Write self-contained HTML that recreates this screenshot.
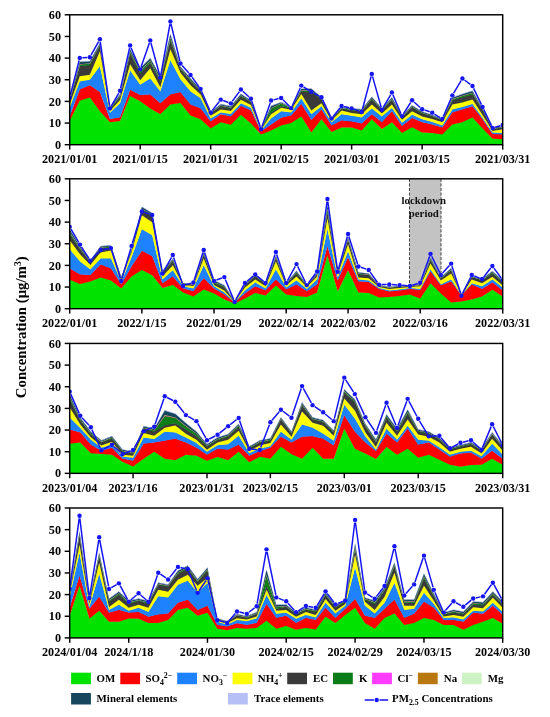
<!DOCTYPE html>
<html lang="en"><head><meta charset="utf-8"><title>PM2.5 chemical composition</title>
<style>html,body{margin:0;padding:0;background:#fff}svg{display:block}</style></head>
<body>
<svg width="550" height="717" viewBox="0 0 550 717" font-family="'Liberation Serif','DejaVu Serif',serif" font-weight="bold">
<rect width="550" height="717" fill="#fff"/>
<g>
<clipPath id="cp0"><rect x="69.7" y="14.8" width="433" height="129.9"/></clipPath>
<polygon points="69.7,120.24 79.77,100.32 89.84,97.07 99.91,110.93 109.98,121.75 120.05,120.67 130.12,95.55 140.19,100.97 150.26,108.11 160.33,113.96 170.4,104 180.47,102.7 190.54,115.04 200.61,118.94 210.68,128.03 220.75,121.75 230.82,124.35 240.89,114.39 250.96,123.05 261.03,134.09 271.1,129.98 281.17,125 291.23,122.62 301.3,116.12 311.37,132.14 321.44,118.94 331.51,131.71 341.58,127.16 351.65,127.16 361.72,129.98 371.79,118.94 381.86,128.68 391.93,121.97 402,132.58 412.07,126.73 422.14,132.14 432.21,132.58 442.28,134.09 452.35,124.13 462.42,121.97 472.49,116.99 482.56,128.03 492.63,138.42 502.7,138.85 502.7,144.7 492.63,144.7 482.56,144.7 472.49,144.7 462.42,144.7 452.35,144.7 442.28,144.7 432.21,144.7 422.14,144.7 412.07,144.7 402,144.7 391.93,144.7 381.86,144.7 371.79,144.7 361.72,144.7 351.65,144.7 341.58,144.7 331.51,144.7 321.44,144.7 311.37,144.7 301.3,144.7 291.23,144.7 281.17,144.7 271.1,144.7 261.03,144.7 250.96,144.7 240.89,144.7 230.82,144.7 220.75,144.7 210.68,144.7 200.61,144.7 190.54,144.7 180.47,144.7 170.4,144.7 160.33,144.7 150.26,144.7 140.19,144.7 130.12,144.7 120.05,144.7 109.98,144.7 99.91,144.7 89.84,144.7 79.77,144.7 69.7,144.7" fill="#00E200"/>
<polygon points="69.7,116.12 79.77,89.06 89.84,84.95 99.91,91.66 109.98,118.72 120.05,116.99 130.12,89.49 140.19,94.69 150.26,94.04 160.33,102.92 170.4,94.04 180.47,91.87 190.54,104 200.61,108.11 210.68,121.1 220.75,113.96 230.82,116.12 240.89,105.51 250.96,110.06 261.03,131.06 271.1,124.13 281.17,117.42 291.23,115.04 301.3,103.57 311.37,119.59 321.44,108.98 331.51,125 341.58,120.02 351.65,121.1 361.72,123.05 371.79,113.96 381.86,121.75 391.93,110.93 402,125.65 412.07,117.64 422.14,121.97 432.21,124.13 442.28,127.16 452.35,112.01 462.42,108.98 472.49,105.95 482.56,118.94 492.63,133.66 502.7,134.09 502.7,139.25 492.63,138.82 482.56,128.43 472.49,117.39 462.42,122.37 452.35,124.53 442.28,134.49 432.21,132.98 422.14,132.54 412.07,127.13 402,132.98 391.93,122.37 381.86,129.08 371.79,119.34 361.72,130.38 351.65,127.56 341.58,127.56 331.51,132.11 321.44,119.34 311.37,132.54 301.3,116.52 291.23,123.02 281.17,125.4 271.1,130.38 261.03,134.49 250.96,123.45 240.89,114.79 230.82,124.75 220.75,122.15 210.68,128.43 200.61,119.34 190.54,115.44 180.47,103.1 170.4,104.4 160.33,114.36 150.26,108.51 140.19,101.37 130.12,95.95 120.05,121.07 109.98,122.15 99.91,111.33 89.84,97.47 79.77,100.72 69.7,120.64" fill="#FF0000"/>
<polygon points="69.7,107.03 79.77,81.05 89.84,79.32 99.91,65.89 109.98,112.44 120.05,102.92 130.12,70.01 140.19,84.3 150.26,78.02 160.33,91.01 170.4,59.83 180.47,78.88 190.54,91.01 200.61,97.94 210.68,118.07 220.75,112.01 230.82,113.52 240.89,102.92 250.96,107.46 261.03,129.98 271.1,118.07 281.17,110.93 291.23,112.01 301.3,97.94 311.37,113.96 321.44,105.95 331.51,121.97 341.58,113.96 351.65,115.47 361.72,116.99 371.79,108.11 381.86,116.12 391.93,107.68 402,122.4 412.07,114.39 422.14,118.94 432.21,121.53 442.28,125 452.35,108.98 462.42,106.6 472.49,103.57 482.56,117.42 492.63,132.14 502.7,132.58 502.7,134.49 492.63,134.06 482.56,119.34 472.49,106.35 462.42,109.38 452.35,112.41 442.28,127.56 432.21,124.53 422.14,122.37 412.07,118.04 402,126.05 391.93,111.33 381.86,122.15 371.79,114.36 361.72,123.45 351.65,121.5 341.58,120.42 331.51,125.4 321.44,109.38 311.37,119.99 301.3,103.97 291.23,115.44 281.17,117.82 271.1,124.53 261.03,131.46 250.96,110.46 240.89,105.91 230.82,116.52 220.75,114.36 210.68,121.5 200.61,108.51 190.54,104.4 180.47,92.27 170.4,94.44 160.33,103.32 150.26,94.44 140.19,95.09 130.12,89.89 120.05,117.39 109.98,119.12 99.91,92.06 89.84,85.35 79.77,89.46 69.7,116.52" fill="#1E82FF"/>
<polygon points="69.7,104.21 79.77,75.85 89.84,74.34 99.91,50.96 109.98,110.71 120.05,99.67 130.12,63.95 140.19,79.97 150.26,67.84 160.33,86.89 170.4,48.79 180.47,72.39 190.54,84.95 200.61,94.04 210.68,115.47 220.75,108.98 230.82,110.71 240.89,99.45 250.96,104.65 261.03,129.55 271.1,113.96 281.17,107.46 291.23,109.41 301.3,93.61 311.37,110.06 321.44,102.92 331.51,120.02 341.58,110.06 351.65,112.66 361.72,113.96 371.79,104 381.86,113.09 391.93,104 402,119.37 412.07,110.93 422.14,116.12 432.21,118.72 442.28,121.97 452.35,104 462.42,102.05 472.49,99.02 482.56,114.61 492.63,130.63 502.7,128.9 502.7,132.98 492.63,132.54 482.56,117.82 472.49,103.97 462.42,107 452.35,109.38 442.28,125.4 432.21,121.93 422.14,119.34 412.07,114.79 402,122.8 391.93,108.08 381.86,116.52 371.79,108.51 361.72,117.39 351.65,115.87 341.58,114.36 331.51,122.37 321.44,106.35 311.37,114.36 301.3,98.34 291.23,112.41 281.17,111.33 271.1,118.47 261.03,130.38 250.96,107.86 240.89,103.32 230.82,113.92 220.75,112.41 210.68,118.47 200.61,98.34 190.54,91.41 180.47,79.28 170.4,60.23 160.33,91.41 150.26,78.42 140.19,84.7 130.12,70.41 120.05,103.32 109.98,112.84 99.91,66.29 89.84,79.72 79.77,81.45 69.7,107.43" fill="#FFFF00"/>
<polygon points="69.7,100.75 79.77,65.89 89.84,64.81 99.91,45.54 109.98,108.98 120.05,96.64 130.12,52.9 140.19,73.04 150.26,62.43 160.33,81.05 170.4,39.91 180.47,68.93 190.54,81.05 200.61,91.01 210.68,113.09 220.75,105.95 230.82,108.11 240.89,95.99 250.96,102.05 261.03,128.9 271.1,112.23 281.17,105.95 291.23,108.11 301.3,91.01 311.37,91.87 321.44,99.02 331.51,118.94 341.58,108.33 351.65,110.06 361.72,110.93 371.79,99.02 381.86,109.63 391.93,99.67 402,116.99 412.07,107.03 422.14,113.09 432.21,116.12 442.28,120.02 452.35,100.1 462.42,97.07 472.49,94.04 482.56,110.06 492.63,128.9 502.7,127.16 502.7,129.3 492.63,131.03 482.56,115.01 472.49,99.42 462.42,102.45 452.35,104.4 442.28,122.37 432.21,119.12 422.14,116.52 412.07,111.33 402,119.77 391.93,104.4 381.86,113.49 371.79,104.4 361.72,114.36 351.65,113.06 341.58,110.46 331.51,120.42 321.44,103.32 311.37,110.46 301.3,94.01 291.23,109.81 281.17,107.86 271.1,114.36 261.03,129.95 250.96,105.05 240.89,99.85 230.82,111.11 220.75,109.38 210.68,115.87 200.61,94.44 190.54,85.35 180.47,72.79 170.4,49.19 160.33,87.29 150.26,68.24 140.19,80.37 130.12,64.35 120.05,100.07 109.98,111.11 99.91,51.36 89.84,74.74 79.77,76.25 69.7,104.61" fill="#3A3A3A"/>
<polygon points="69.7,99.97 79.77,64.16 89.84,63.25 99.91,44.5 109.98,108.2 120.05,95.6 130.12,51.26 140.19,70.96 150.26,60.61 160.33,78.97 170.4,37.49 180.47,67.89 190.54,79.84 200.61,90.32 210.68,112.48 220.75,105.17 230.82,107.25 240.89,95.03 250.96,101.27 261.03,128.72 271.1,108.11 281.17,103.13 291.23,107.68 301.3,90.06 311.37,90.49 321.44,98.24 331.51,118.59 341.58,107.64 351.65,109.45 361.72,110.15 371.79,98.07 381.86,109.02 391.93,98.72 402,116.38 412.07,106.25 422.14,112.4 432.21,115.52 442.28,119.5 452.35,98.98 462.42,95.68 472.49,92.65 482.56,109.28 492.63,128.38 502.7,126.64 502.7,127.56 492.63,129.3 482.56,110.46 472.49,94.44 462.42,97.47 452.35,100.5 442.28,120.42 432.21,116.52 422.14,113.49 412.07,107.43 402,117.39 391.93,100.07 381.86,110.03 371.79,99.42 361.72,111.33 351.65,110.46 341.58,108.73 331.51,119.34 321.44,99.42 311.37,92.27 301.3,91.41 291.23,108.51 281.17,106.35 271.1,112.63 261.03,129.3 250.96,102.45 240.89,96.39 230.82,108.51 220.75,106.35 210.68,113.49 200.61,91.41 190.54,81.45 180.47,69.33 170.4,40.31 160.33,81.45 150.26,62.83 140.19,73.44 130.12,53.3 120.05,97.04 109.98,109.38 99.91,45.94 89.84,65.21 79.77,66.29 69.7,101.15" fill="#0B7D18"/>
<polygon points="69.7,99.91 79.77,64.03 89.84,63.14 99.91,44.43 109.98,108.14 120.05,95.52 130.12,51.14 140.19,70.8 150.26,60.48 160.33,78.81 170.4,37.31 180.47,67.81 190.54,79.75 200.61,90.26 210.68,112.44 220.75,105.11 230.82,107.18 240.89,94.96 250.96,101.21 261.03,128.71 271.1,107.99 281.17,103.08 291.23,107.65 301.3,89.98 311.37,90.38 321.44,98.18 331.51,118.56 341.58,107.58 351.65,109.41 361.72,110.09 371.79,97.99 381.86,108.98 391.93,98.64 402,116.34 412.07,106.19 422.14,112.35 432.21,115.47 442.28,119.46 452.35,98.89 462.42,95.58 472.49,92.55 482.56,109.22 492.63,128.34 502.7,126.6 502.7,127.04 492.63,128.78 482.56,109.68 472.49,93.05 462.42,96.08 452.35,99.38 442.28,119.9 432.21,115.92 422.14,112.8 412.07,106.65 402,116.78 391.93,99.12 381.86,109.42 371.79,98.47 361.72,110.55 351.65,109.85 341.58,108.04 331.51,118.99 321.44,98.64 311.37,90.89 301.3,90.46 291.23,108.08 281.17,103.53 271.1,108.51 261.03,129.12 250.96,101.67 240.89,95.43 230.82,107.65 220.75,105.57 210.68,112.88 200.61,90.72 190.54,80.24 180.47,68.29 170.4,37.89 160.33,79.37 150.26,61.01 140.19,71.36 130.12,51.66 120.05,96 109.98,108.6 99.91,44.9 89.84,63.65 79.77,64.56 69.7,100.37" fill="#FF3CFF"/>
<polygon points="69.7,99.83 79.77,63.85 89.84,62.97 99.91,44.32 109.98,108.06 120.05,95.41 130.12,50.96 140.19,70.59 150.26,60.28 160.33,78.6 170.4,37.05 180.47,67.7 190.54,79.62 200.61,90.19 210.68,112.38 220.75,105.03 230.82,107.09 240.89,94.86 250.96,101.13 261.03,128.69 271.1,107.83 281.17,103 291.23,107.6 301.3,89.88 311.37,90.24 321.44,98.1 331.51,118.53 341.58,107.51 351.65,109.34 361.72,110.01 371.79,97.89 381.86,108.91 391.93,98.54 402,116.27 412.07,106.11 422.14,112.27 432.21,115.41 442.28,119.41 452.35,98.77 462.42,95.43 472.49,92.4 482.56,109.14 492.63,128.28 502.7,126.55 502.7,127 492.63,128.74 482.56,109.62 472.49,92.95 462.42,95.98 452.35,99.29 442.28,119.86 432.21,115.87 422.14,112.75 412.07,106.59 402,116.74 391.93,99.04 381.86,109.38 371.79,98.39 361.72,110.49 351.65,109.81 341.58,107.98 331.51,118.96 321.44,98.58 311.37,90.78 301.3,90.38 291.23,108.05 281.17,103.48 271.1,108.39 261.03,129.11 250.96,101.61 240.89,95.36 230.82,107.58 220.75,105.51 210.68,112.84 200.61,90.66 190.54,80.15 180.47,68.21 170.4,37.71 160.33,79.21 150.26,60.88 140.19,71.2 130.12,51.54 120.05,95.92 109.98,108.54 99.91,44.83 89.84,63.54 79.77,64.43 69.7,100.31" fill="#B8770F"/>
<polygon points="69.7,99.78 79.77,63.75 89.84,62.88 99.91,44.25 109.98,108.01 120.05,95.35 130.12,50.86 140.19,70.46 150.26,60.17 160.33,78.47 170.4,36.91 180.47,67.64 190.54,79.55 200.61,90.15 210.68,112.34 220.75,104.98 230.82,107.04 240.89,94.81 250.96,101.08 261.03,128.68 271.1,107.73 281.17,102.96 291.23,107.57 301.3,89.83 311.37,90.16 321.44,98.05 331.51,118.51 341.58,107.47 351.65,109.31 361.72,109.96 371.79,97.84 381.86,108.88 391.93,98.49 402,116.24 412.07,106.06 422.14,112.23 432.21,115.37 442.28,119.37 452.35,98.71 462.42,95.35 472.49,92.32 482.56,109.09 492.63,128.25 502.7,126.52 502.7,126.95 492.63,128.68 482.56,109.54 472.49,92.8 462.42,95.83 452.35,99.17 442.28,119.81 432.21,115.81 422.14,112.67 412.07,106.51 402,116.67 391.93,98.94 381.86,109.31 371.79,98.29 361.72,110.41 351.65,109.74 341.58,107.91 331.51,118.93 321.44,98.5 311.37,90.64 301.3,90.28 291.23,108 281.17,103.4 271.1,108.23 261.03,129.09 250.96,101.53 240.89,95.26 230.82,107.49 220.75,105.43 210.68,112.78 200.61,90.59 190.54,80.02 180.47,68.1 170.4,37.45 160.33,79 150.26,60.68 140.19,70.99 130.12,51.36 120.05,95.81 109.98,108.46 99.91,44.72 89.84,63.37 79.77,64.25 69.7,100.23" fill="#CDF2C3"/>
<polygon points="69.7,98.87 79.77,61.72 89.84,61.05 99.91,43.04 109.98,107.1 120.05,94.13 130.12,48.94 140.19,68.03 150.26,58.05 160.33,76.04 170.4,34.07 180.47,66.42 190.54,78.13 200.61,89.34 210.68,111.63 220.75,104.07 230.82,106.02 240.89,93.69 250.96,100.17 261.03,128.48 271.1,105.87 281.17,102.11 291.23,107.07 301.3,88.71 311.37,88.53 321.44,97.14 331.51,118.1 341.58,106.66 351.65,108.6 361.72,109.05 371.79,96.72 381.86,108.17 391.93,97.37 402,115.53 412.07,105.15 422.14,111.42 432.21,114.66 442.28,118.77 452.35,97.39 462.42,93.73 472.49,90.7 482.56,108.18 492.63,127.64 502.7,125.91 502.7,126.92 492.63,128.65 482.56,109.49 472.49,92.72 462.42,95.75 452.35,99.11 442.28,119.77 432.21,115.77 422.14,112.63 412.07,106.46 402,116.64 391.93,98.89 381.86,109.28 371.79,98.24 361.72,110.36 351.65,109.71 341.58,107.87 331.51,118.91 321.44,98.45 311.37,90.56 301.3,90.23 291.23,107.97 281.17,103.36 271.1,108.13 261.03,129.08 250.96,101.48 240.89,95.21 230.82,107.44 220.75,105.38 210.68,112.74 200.61,90.55 190.54,79.95 180.47,68.04 170.4,37.31 160.33,78.87 150.26,60.57 140.19,70.86 130.12,51.26 120.05,95.75 109.98,108.41 99.91,44.65 89.84,63.28 79.77,64.15 69.7,100.18" fill="#15465E"/>
<polygon points="69.7,98.8 79.77,61.56 89.84,60.91 99.91,42.95 109.98,107.03 120.05,94.04 130.12,48.79 140.19,67.84 150.26,57.88 160.33,75.85 170.4,33.85 180.47,66.33 190.54,78.02 200.61,89.28 210.68,111.58 220.75,104 230.82,105.95 240.89,93.61 250.96,100.1 261.03,128.46 271.1,105.73 281.17,102.05 291.23,107.03 301.3,88.63 311.37,88.41 321.44,97.07 331.51,118.07 341.58,106.6 351.65,108.54 361.72,108.98 371.79,96.64 381.86,108.11 391.93,97.29 402,115.47 412.07,105.08 422.14,111.36 432.21,114.61 442.28,118.72 452.35,97.29 462.42,93.61 472.49,90.58 482.56,108.11 492.63,127.6 502.7,125.86 502.7,126.31 492.63,128.04 482.56,108.58 472.49,91.1 462.42,94.13 452.35,97.79 442.28,119.17 432.21,115.06 422.14,111.82 412.07,105.55 402,115.93 391.93,97.77 381.86,108.57 371.79,97.12 361.72,109.45 351.65,109 341.58,107.06 331.51,118.5 321.44,97.54 311.37,88.93 301.3,89.11 291.23,107.47 281.17,102.51 271.1,106.27 261.03,128.88 250.96,100.57 240.89,94.09 230.82,106.42 220.75,104.47 210.68,112.03 200.61,89.74 190.54,78.53 180.47,66.82 170.4,34.47 160.33,76.44 150.26,58.45 140.19,68.43 130.12,49.34 120.05,94.53 109.98,107.5 99.91,43.44 89.84,61.45 79.77,62.12 69.7,99.27" fill="#B7C0F6"/>
<g clip-path="url(#cp0)">
<path d="M70.34 94.98L79.13 60.4M82.36 57.72L87.24 57.4M91.11 54.97L98.64 41.53M100.28 41.84L109.6 105.76M111.27 106.07L118.75 93.05M120.61 88.25L129.55 48.08M131.13 47.94L139.18 66.96M141.05 66.9L149.4 43.02M150.94 43.07L159.65 75.08M160.79 75.03L169.94 24.07M171 24.04L179.86 60.98M182.18 65.47L188.82 73.03M192.05 77.1L199.09 86.95M201.64 91.45L209.65 110.05M212.29 110.4L219.14 101.71M223.19 100.56L228.37 102.46M232.34 101.25L239.36 91.6M242.8 91.26L249.05 97.04M251.78 101.27L260.21 126.64M261.89 126.66L270.23 102.99M273.61 99.88L278.65 98.59M282.99 99.78L289.41 106.26M292.3 105.74L300.24 87.97M303.51 86.97L309.17 90.5M313.66 93.1L319.15 96.06M322.56 99.64L330.4 116.15M333.14 116.48L339.96 107.97M344.11 106.54L349.12 107.73M354.1 109.22L359.28 111.12M362.39 109.49L371.13 76.42M372.5 76.41L381.16 107.12M383.18 107.39L390.61 94.76M392.95 94.91L400.98 113.73M403.4 113.93L410.67 102.51M414.02 102.04L420.19 107.47M424.6 110.04L429.75 111.81M434.42 114.03L440.08 117.56M443.3 116.55L451.33 97.73M453.68 93.1L461.09 80.68M464.5 80.01L470.41 84.47M473.61 88.37L481.44 104.68M483.68 109.37L491.51 125.69M495.12 127.28L500.21 125.75" fill="none" stroke="#1414F5" stroke-width="1.5"/>
<circle cx="69.7" cy="97.5" r="2.2" fill="#1414F5"/>
<circle cx="79.77" cy="57.88" r="2.2" fill="#1414F5"/>
<circle cx="89.84" cy="57.23" r="2.2" fill="#1414F5"/>
<circle cx="99.91" cy="39.26" r="2.2" fill="#1414F5"/>
<circle cx="109.98" cy="108.33" r="2.2" fill="#1414F5"/>
<circle cx="120.05" cy="90.79" r="2.2" fill="#1414F5"/>
<circle cx="130.12" cy="45.54" r="2.2" fill="#1414F5"/>
<circle cx="140.19" cy="69.36" r="2.2" fill="#1414F5"/>
<circle cx="150.26" cy="40.56" r="2.2" fill="#1414F5"/>
<circle cx="160.33" cy="77.59" r="2.2" fill="#1414F5"/>
<circle cx="170.4" cy="21.51" r="2.2" fill="#1414F5"/>
<circle cx="180.47" cy="63.51" r="2.2" fill="#1414F5"/>
<circle cx="190.54" cy="74.99" r="2.2" fill="#1414F5"/>
<circle cx="200.61" cy="89.06" r="2.2" fill="#1414F5"/>
<circle cx="210.68" cy="112.44" r="2.2" fill="#1414F5"/>
<circle cx="220.75" cy="99.67" r="2.2" fill="#1414F5"/>
<circle cx="230.82" cy="103.35" r="2.2" fill="#1414F5"/>
<circle cx="240.89" cy="89.49" r="2.2" fill="#1414F5"/>
<circle cx="250.96" cy="98.8" r="2.2" fill="#1414F5"/>
<circle cx="261.03" cy="129.11" r="2.2" fill="#1414F5"/>
<circle cx="271.1" cy="100.53" r="2.2" fill="#1414F5"/>
<circle cx="281.17" cy="97.94" r="2.2" fill="#1414F5"/>
<circle cx="291.23" cy="108.11" r="2.2" fill="#1414F5"/>
<circle cx="301.3" cy="85.6" r="2.2" fill="#1414F5"/>
<circle cx="311.37" cy="91.87" r="2.2" fill="#1414F5"/>
<circle cx="321.44" cy="97.29" r="2.2" fill="#1414F5"/>
<circle cx="331.51" cy="118.5" r="2.2" fill="#1414F5"/>
<circle cx="341.58" cy="105.95" r="2.2" fill="#1414F5"/>
<circle cx="351.65" cy="108.33" r="2.2" fill="#1414F5"/>
<circle cx="361.72" cy="112.01" r="2.2" fill="#1414F5"/>
<circle cx="371.79" cy="73.9" r="2.2" fill="#1414F5"/>
<circle cx="381.86" cy="109.63" r="2.2" fill="#1414F5"/>
<circle cx="391.93" cy="92.52" r="2.2" fill="#1414F5"/>
<circle cx="402" cy="116.12" r="2.2" fill="#1414F5"/>
<circle cx="412.07" cy="100.32" r="2.2" fill="#1414F5"/>
<circle cx="422.14" cy="109.19" r="2.2" fill="#1414F5"/>
<circle cx="432.21" cy="112.66" r="2.2" fill="#1414F5"/>
<circle cx="442.28" cy="118.94" r="2.2" fill="#1414F5"/>
<circle cx="452.35" cy="95.34" r="2.2" fill="#1414F5"/>
<circle cx="462.42" cy="78.45" r="2.2" fill="#1414F5"/>
<circle cx="472.49" cy="86.03" r="2.2" fill="#1414F5"/>
<circle cx="482.56" cy="107.03" r="2.2" fill="#1414F5"/>
<circle cx="492.63" cy="128.03" r="2.2" fill="#1414F5"/>
<circle cx="502.7" cy="125" r="2.2" fill="#1414F5"/>
</g>
<rect x="69.7" y="14.8" width="433" height="129.9" fill="none" stroke="#000" stroke-width="1.45"/>
<line x1="64.7" y1="144.7" x2="69.7" y2="144.7" stroke="#000" stroke-width="1.45"/>
<text x="61" y="148.8" font-size="12.2" text-anchor="end">0</text>
<line x1="64.7" y1="123.05" x2="69.7" y2="123.05" stroke="#000" stroke-width="1.45"/>
<text x="61" y="127.15" font-size="12.2" text-anchor="end">10</text>
<line x1="64.7" y1="101.4" x2="69.7" y2="101.4" stroke="#000" stroke-width="1.45"/>
<text x="61" y="105.5" font-size="12.2" text-anchor="end">20</text>
<line x1="64.7" y1="79.75" x2="69.7" y2="79.75" stroke="#000" stroke-width="1.45"/>
<text x="61" y="83.85" font-size="12.2" text-anchor="end">30</text>
<line x1="64.7" y1="58.1" x2="69.7" y2="58.1" stroke="#000" stroke-width="1.45"/>
<text x="61" y="62.2" font-size="12.2" text-anchor="end">40</text>
<line x1="64.7" y1="36.45" x2="69.7" y2="36.45" stroke="#000" stroke-width="1.45"/>
<text x="61" y="40.55" font-size="12.2" text-anchor="end">50</text>
<line x1="64.7" y1="14.8" x2="69.7" y2="14.8" stroke="#000" stroke-width="1.45"/>
<text x="61" y="18.9" font-size="12.2" text-anchor="end">60</text>
<line x1="69.7" y1="144.7" x2="69.7" y2="149.6" stroke="#000" stroke-width="1.45"/>
<text x="69.7" y="163.2" font-size="12.15" text-anchor="middle">2021/01/01</text>
<line x1="140.19" y1="144.7" x2="140.19" y2="149.6" stroke="#000" stroke-width="1.45"/>
<text x="140.19" y="163.2" font-size="12.15" text-anchor="middle">2021/01/15</text>
<line x1="210.68" y1="144.7" x2="210.68" y2="149.6" stroke="#000" stroke-width="1.45"/>
<text x="210.68" y="163.2" font-size="12.15" text-anchor="middle">2021/01/31</text>
<line x1="281.17" y1="144.7" x2="281.17" y2="149.6" stroke="#000" stroke-width="1.45"/>
<text x="281.17" y="163.2" font-size="12.15" text-anchor="middle">2021/02/15</text>
<line x1="351.65" y1="144.7" x2="351.65" y2="149.6" stroke="#000" stroke-width="1.45"/>
<text x="351.65" y="163.2" font-size="12.15" text-anchor="middle">2021/03/01</text>
<line x1="422.14" y1="144.7" x2="422.14" y2="149.6" stroke="#000" stroke-width="1.45"/>
<text x="422.14" y="163.2" font-size="12.15" text-anchor="middle">2021/03/15</text>
<line x1="502.7" y1="144.7" x2="502.7" y2="149.6" stroke="#000" stroke-width="1.45"/>
<text x="502.7" y="163.2" font-size="12.15" text-anchor="middle">2021/03/31</text>
</g>
<g>
<clipPath id="cp1"><rect x="69.7" y="178.8" width="433" height="129.9"/></clipPath>
<rect x="409.5" y="178.8" width="31.5" height="129.9" fill="#C3C3C3"/>
<line x1="409.5" y1="178.8" x2="409.5" y2="308.7" stroke="#444" stroke-width="1" stroke-dasharray="3 1.6"/>
<line x1="441" y1="178.8" x2="441" y2="308.7" stroke="#444" stroke-width="1" stroke-dasharray="3 1.6"/>
<text x="423.8" y="204.4" font-size="10.8" text-anchor="middle" fill="#111">lockdown</text>
<text x="423.8" y="216.6" font-size="10.8" text-anchor="middle" fill="#111">period</text>
<polygon points="69.7,279.47 80.01,283.59 90.32,280.99 100.63,277.09 110.94,280.12 121.25,288.13 131.56,276.01 141.87,269.51 152.18,274.93 162.49,287.7 172.8,284.67 183.1,292.03 193.41,296.14 203.72,289 214.03,293.11 224.34,299.17 234.65,303.07 244.96,298.09 255.27,292.68 265.58,295.06 275.89,285.1 286.2,293.98 296.51,295.71 306.82,296.58 317.13,292.03 327.44,255.01 337.75,291.16 348.06,269.95 358.37,292.03 368.68,292.68 378.99,297.01 389.3,296.58 399.6,295.71 409.91,293.98 420.22,298.09 430.53,282.94 440.84,293.11 451.15,301.99 461.46,301.12 471.77,299.17 482.08,296.14 492.39,289.43 502.7,296.14 502.7,308.7 492.39,308.7 482.08,308.7 471.77,308.7 461.46,308.7 451.15,308.7 440.84,308.7 430.53,308.7 420.22,308.7 409.91,308.7 399.6,308.7 389.3,308.7 378.99,308.7 368.68,308.7 358.37,308.7 348.06,308.7 337.75,308.7 327.44,308.7 317.13,308.7 306.82,308.7 296.51,308.7 286.2,308.7 275.89,308.7 265.58,308.7 255.27,308.7 244.96,308.7 234.65,308.7 224.34,308.7 214.03,308.7 203.72,308.7 193.41,308.7 183.1,308.7 172.8,308.7 162.49,308.7 152.18,308.7 141.87,308.7 131.56,308.7 121.25,308.7 110.94,308.7 100.63,308.7 90.32,308.7 80.01,308.7 69.7,308.7" fill="#00E200"/>
<polygon points="69.7,268 80.01,274.06 90.32,274.71 100.63,264.1 110.94,268 121.25,284.02 131.56,266.05 141.87,250.46 152.18,255.87 162.49,282.94 172.8,276.01 183.1,288.13 193.41,290.73 203.72,277.96 214.03,288.13 224.34,293.98 234.65,301.99 244.96,293.11 255.27,285.97 265.58,290.08 275.89,279.04 286.2,289 296.51,284.02 306.82,290.73 317.13,284.02 327.44,245.92 337.75,280.12 348.06,256.96 358.37,280.99 368.68,281.64 378.99,288.57 389.3,291.16 399.6,290.08 409.91,288.57 420.22,289.65 430.53,271.03 440.84,285.1 451.15,280.99 461.46,295.06 471.77,284.02 482.08,288.57 492.39,282.07 502.7,290.08 502.7,296.54 492.39,289.83 482.08,296.54 471.77,299.57 461.46,301.52 451.15,302.39 440.84,293.51 430.53,283.34 420.22,298.49 409.91,294.38 399.6,296.11 389.3,296.98 378.99,297.41 368.68,293.08 358.37,292.43 348.06,270.35 337.75,291.56 327.44,255.41 317.13,292.43 306.82,296.98 296.51,296.11 286.2,294.38 275.89,285.5 265.58,295.46 255.27,293.08 244.96,298.49 234.65,303.47 224.34,299.57 214.03,293.51 203.72,289.4 193.41,296.54 183.1,292.43 172.8,285.07 162.49,288.1 152.18,275.33 141.87,269.91 131.56,276.41 121.25,288.53 110.94,280.52 100.63,277.49 90.32,281.39 80.01,283.99 69.7,279.87" fill="#FF0000"/>
<polygon points="69.7,248.95 80.01,261.07 90.32,269.08 100.63,258.04 110.94,258.04 121.25,281.42 131.56,256.96 141.87,228.81 152.18,234.87 162.49,279.04 172.8,269.95 183.1,285.97 193.41,288.13 203.72,264.97 214.03,285.97 224.34,292.03 234.65,301.77 244.96,290.08 255.27,282.07 265.58,288.13 275.89,269.08 286.2,287.05 296.51,280.12 306.82,288.57 317.13,279.04 327.44,228.81 337.75,277.09 348.06,250.89 358.37,279.04 368.68,280.12 378.99,287.7 389.3,290.08 399.6,289 409.91,287.7 420.22,288.57 430.53,269.08 440.84,284.02 451.15,279.04 461.46,294.84 471.77,282.94 482.08,285.97 492.39,279.04 502.7,287.05 502.7,290.48 492.39,282.47 482.08,288.97 471.77,284.42 461.46,295.46 451.15,281.39 440.84,285.5 430.53,271.43 420.22,290.05 409.91,288.97 399.6,290.48 389.3,291.56 378.99,288.97 368.68,282.04 358.37,281.39 348.06,257.36 337.75,280.52 327.44,246.32 317.13,284.42 306.82,291.13 296.51,284.42 286.2,289.4 275.89,279.44 265.58,290.48 255.27,286.37 244.96,293.51 234.65,302.39 224.34,294.38 214.03,288.53 203.72,278.36 193.41,291.13 183.1,288.53 172.8,276.41 162.49,283.34 152.18,256.27 141.87,250.86 131.56,266.45 121.25,284.42 110.94,268.4 100.63,264.5 90.32,275.11 80.01,274.46 69.7,268.4" fill="#1E82FF"/>
<polygon points="69.7,239.85 80.01,253.93 90.32,264.53 100.63,251.98 110.94,250.03 121.25,279.04 131.56,251.98 141.87,214.96 152.18,221.88 162.49,276.01 172.8,264.97 183.1,284.67 193.41,285.53 203.72,258.04 214.03,284.67 224.34,290.08 234.65,301.56 244.96,287.05 255.27,279.04 265.58,285.97 275.89,261.07 286.2,285.1 296.51,276.01 306.82,286.62 317.13,276.01 327.44,217.99 337.75,274.06 348.06,243.97 358.37,277.09 368.68,277.96 378.99,286.62 389.3,288.57 399.6,287.48 409.91,286.62 420.22,285.97 430.53,263.02 440.84,280.12 451.15,272.98 461.46,294.63 471.77,279.04 482.08,282.94 492.39,276.44 502.7,285.1 502.7,287.45 492.39,279.44 482.08,286.37 471.77,283.34 461.46,295.24 451.15,279.44 440.84,284.42 430.53,269.48 420.22,288.97 409.91,288.1 399.6,289.4 389.3,290.48 378.99,288.1 368.68,280.52 358.37,279.44 348.06,251.29 337.75,277.49 327.44,229.21 317.13,279.44 306.82,288.97 296.51,280.52 286.2,287.45 275.89,269.48 265.58,288.53 255.27,282.47 244.96,290.48 234.65,302.17 224.34,292.43 214.03,286.37 203.72,265.37 193.41,288.53 183.1,286.37 172.8,270.35 162.49,279.44 152.18,235.27 141.87,229.21 131.56,257.36 121.25,281.82 110.94,258.44 100.63,258.44 90.32,269.48 80.01,261.47 69.7,249.35" fill="#FFFF00"/>
<polygon points="69.7,234.01 80.01,248.95 90.32,261.94 100.63,248.08 110.94,247 121.25,277.96 131.56,250.25 141.87,209.98 152.18,215.82 162.49,272.98 172.8,261.07 183.1,283.8 193.41,284.45 203.72,254.58 214.03,282.94 224.34,287.05 234.65,301.34 244.96,285.32 255.27,276.01 265.58,284.02 275.89,258.04 286.2,283.8 296.51,272.98 306.82,285.53 317.13,274.28 327.44,211.92 337.75,272.33 348.06,239.85 358.37,274.06 368.68,274.93 378.99,285.75 389.3,287.48 399.6,286.4 409.91,285.75 420.22,284.89 430.53,259.99 440.84,278.39 451.15,269.95 461.46,294.41 471.77,277.09 482.08,280.12 492.39,272.98 502.7,282.07 502.7,285.5 492.39,276.84 482.08,283.34 471.77,279.44 461.46,295.03 451.15,273.38 440.84,280.52 430.53,263.42 420.22,286.37 409.91,287.02 399.6,287.88 389.3,288.97 378.99,287.02 368.68,278.36 358.37,277.49 348.06,244.37 337.75,274.46 327.44,218.39 317.13,276.41 306.82,287.02 296.51,276.41 286.2,285.5 275.89,261.47 265.58,286.37 255.27,279.44 244.96,287.45 234.65,301.96 224.34,290.48 214.03,285.07 203.72,258.44 193.41,285.93 183.1,285.07 172.8,265.37 162.49,276.41 152.18,222.28 141.87,215.36 131.56,252.38 121.25,279.44 110.94,250.43 100.63,252.38 90.32,264.93 80.01,254.33 69.7,240.25" fill="#3A3A3A"/>
<polygon points="69.7,231.93 80.01,247.73 90.32,261.16 100.63,247.21 110.94,246.3 121.25,277.61 131.56,249.73 141.87,208.59 152.18,214.61 162.49,272.2 172.8,260.12 183.1,283.46 193.41,284.02 203.72,253.54 214.03,281.81 224.34,286.27 234.65,301.25 244.96,284.8 255.27,275.23 265.58,283.5 275.89,257.09 286.2,283.37 296.51,272.02 306.82,285.19 317.13,273.76 327.44,209.07 337.75,271.81 348.06,238.73 358.37,273.28 368.68,274.32 378.99,285.49 389.3,287.14 399.6,286.05 409.91,285.49 420.22,284.54 430.53,258.95 440.84,277.87 451.15,269.17 461.46,294.24 471.77,276.66 482.08,279.52 492.39,272.2 502.7,281.29 502.7,282.47 492.39,273.38 482.08,280.52 471.77,277.49 461.46,294.81 451.15,270.35 440.84,278.79 430.53,260.39 420.22,285.29 409.91,286.15 399.6,286.8 389.3,287.88 378.99,286.15 368.68,275.33 358.37,274.46 348.06,240.25 337.75,272.73 327.44,212.32 317.13,274.68 306.82,285.93 296.51,273.38 286.2,284.2 275.89,258.44 265.58,284.42 255.27,276.41 244.96,285.72 234.65,301.74 224.34,287.45 214.03,283.34 203.72,254.98 193.41,284.85 183.1,284.2 172.8,261.47 162.49,273.38 152.18,216.22 141.87,210.38 131.56,250.65 121.25,278.36 110.94,247.4 100.63,248.48 90.32,262.34 80.01,249.35 69.7,234.41" fill="#0B7D18"/>
<polygon points="69.7,231.77 80.01,247.64 90.32,261.1 100.63,247.15 110.94,246.25 121.25,277.58 131.56,249.69 141.87,208.49 152.18,214.52 162.49,272.14 172.8,260.05 183.1,283.43 193.41,283.99 203.72,253.46 214.03,281.73 224.34,286.21 234.65,301.25 244.96,284.76 255.27,275.17 265.58,283.46 275.89,257.01 286.2,283.34 296.51,271.95 306.82,285.16 317.13,273.72 327.44,208.85 337.75,271.77 348.06,238.64 358.37,273.22 368.68,274.27 378.99,285.47 389.3,287.11 399.6,286.03 409.91,285.47 420.22,284.51 430.53,258.87 440.84,277.83 451.15,269.11 461.46,294.22 471.77,276.63 482.08,279.47 492.39,272.14 502.7,281.23 502.7,281.69 492.39,272.6 482.08,279.92 471.77,277.06 461.46,294.64 451.15,269.57 440.84,278.27 430.53,259.35 420.22,284.94 409.91,285.89 399.6,286.45 389.3,287.54 378.99,285.89 368.68,274.72 358.37,273.68 348.06,239.13 337.75,272.21 327.44,209.47 317.13,274.16 306.82,285.59 296.51,272.42 286.2,283.77 275.89,257.49 265.58,283.9 255.27,275.63 244.96,285.2 234.65,301.65 224.34,286.67 214.03,282.21 203.72,253.94 193.41,284.42 183.1,283.86 172.8,260.52 162.49,272.6 152.18,215.01 141.87,208.99 131.56,250.13 121.25,278.01 110.94,246.7 100.63,247.61 90.32,261.56 80.01,248.13 69.7,232.33" fill="#FF3CFF"/>
<polygon points="69.7,231.55 80.01,247.52 90.32,261.02 100.63,247.06 110.94,246.18 121.25,277.55 131.56,249.63 141.87,208.34 152.18,214.39 162.49,272.06 172.8,259.95 183.1,283.39 193.41,283.94 203.72,253.35 214.03,281.61 224.34,286.13 234.65,301.24 244.96,284.7 255.27,275.09 265.58,283.41 275.89,256.91 286.2,283.29 296.51,271.85 306.82,285.13 317.13,273.66 327.44,208.55 337.75,271.71 348.06,238.52 358.37,273.14 368.68,274.21 378.99,285.44 389.3,287.07 399.6,285.99 409.91,285.44 420.22,284.48 430.53,258.76 440.84,277.78 451.15,269.03 461.46,294.21 471.77,276.58 482.08,279.41 492.39,272.06 502.7,281.15 502.7,281.63 492.39,272.54 482.08,279.87 471.77,277.03 461.46,294.62 451.15,269.51 440.84,278.23 430.53,259.27 420.22,284.91 409.91,285.87 399.6,286.43 389.3,287.51 378.99,285.87 368.68,274.67 358.37,273.62 348.06,239.04 337.75,272.17 327.44,209.25 317.13,274.12 306.82,285.56 296.51,272.35 286.2,283.74 275.89,257.41 265.58,283.86 255.27,275.57 244.96,285.16 234.65,301.65 224.34,286.61 214.03,282.13 203.72,253.86 193.41,284.39 183.1,283.83 172.8,260.45 162.49,272.54 152.18,214.92 141.87,208.89 131.56,250.09 121.25,277.98 110.94,246.65 100.63,247.55 90.32,261.5 80.01,248.04 69.7,232.17" fill="#B8770F"/>
<polygon points="69.7,231.43 80.01,247.44 90.32,260.97 100.63,247.01 110.94,246.14 121.25,277.53 131.56,249.6 141.87,208.26 152.18,214.32 162.49,272.01 172.8,259.89 183.1,283.37 193.41,283.92 203.72,253.29 214.03,281.54 224.34,286.08 234.65,301.23 244.96,284.67 255.27,275.04 265.58,283.37 275.89,256.86 286.2,283.27 296.51,271.8 306.82,285.1 317.13,273.63 327.44,208.38 337.75,271.68 348.06,238.46 358.37,273.09 368.68,274.17 378.99,285.43 389.3,287.05 399.6,285.97 409.91,285.43 420.22,284.46 430.53,258.7 440.84,277.75 451.15,268.98 461.46,294.2 471.77,276.55 482.08,279.37 492.39,272.01 502.7,281.1 502.7,281.55 492.39,272.46 482.08,279.81 471.77,276.98 461.46,294.61 451.15,269.43 440.84,278.18 430.53,259.16 420.22,284.88 409.91,285.84 399.6,286.39 389.3,287.47 378.99,285.84 368.68,274.61 358.37,273.54 348.06,238.92 337.75,272.11 327.44,208.95 317.13,274.06 306.82,285.53 296.51,272.25 286.2,283.69 275.89,257.31 265.58,283.81 255.27,275.49 244.96,285.1 234.65,301.64 224.34,286.53 214.03,282.01 203.72,253.75 193.41,284.34 183.1,283.79 172.8,260.35 162.49,272.46 152.18,214.79 141.87,208.74 131.56,250.03 121.25,277.95 110.94,246.58 100.63,247.46 90.32,261.42 80.01,247.92 69.7,231.95" fill="#CDF2C3"/>
<polygon points="69.7,229 80.01,246.02 90.32,260.06 100.63,245.99 110.94,245.33 121.25,277.12 131.56,248.99 141.87,206.64 152.18,212.9 162.49,271.1 172.8,258.77 183.1,282.97 193.41,283.41 203.72,252.07 214.03,280.22 224.34,285.17 234.65,301.13 244.96,284.07 255.27,274.13 265.58,282.77 275.89,255.74 286.2,282.76 296.51,270.68 306.82,284.7 317.13,273.02 327.44,205.04 337.75,271.08 348.06,237.14 358.37,272.18 368.68,273.47 378.99,285.12 389.3,286.65 399.6,285.57 409.91,285.12 420.22,284.05 430.53,257.48 440.84,277.14 451.15,268.07 461.46,293.99 471.77,276.05 482.08,278.66 492.39,271.1 502.7,280.19 502.7,281.5 492.39,272.41 482.08,279.77 471.77,276.95 461.46,294.6 451.15,269.38 440.84,278.15 430.53,259.1 420.22,284.86 409.91,285.83 399.6,286.37 389.3,287.45 378.99,285.83 368.68,274.57 358.37,273.49 348.06,238.86 337.75,272.08 327.44,208.78 317.13,274.03 306.82,285.5 296.51,272.2 286.2,283.67 275.89,257.26 265.58,283.77 255.27,275.44 244.96,285.07 234.65,301.63 224.34,286.48 214.03,281.94 203.72,253.69 193.41,284.32 183.1,283.77 172.8,260.29 162.49,272.41 152.18,214.72 141.87,208.66 131.56,250 121.25,277.93 110.94,246.54 100.63,247.41 90.32,261.37 80.01,247.84 69.7,231.83" fill="#15465E"/>
<polygon points="69.7,228.81 80.01,245.92 90.32,259.99 100.63,245.92 110.94,245.27 121.25,277.09 131.56,248.95 141.87,206.51 152.18,212.79 162.49,271.03 172.8,258.69 183.1,282.94 193.41,283.37 203.72,251.98 214.03,280.12 224.34,285.1 234.65,301.12 244.96,284.02 255.27,274.06 265.58,282.72 275.89,255.66 286.2,282.72 296.51,270.6 306.82,284.67 317.13,272.98 327.44,204.78 337.75,271.03 348.06,237.04 358.37,272.11 368.68,273.41 378.99,285.1 389.3,286.62 399.6,285.53 409.91,285.1 420.22,284.02 430.53,257.39 440.84,277.09 451.15,268 461.46,293.98 471.77,276.01 482.08,278.61 492.39,271.03 502.7,280.12 502.7,280.59 492.39,271.5 482.08,279.06 471.77,276.45 461.46,294.39 451.15,268.47 440.84,277.54 430.53,257.88 420.22,284.45 409.91,285.52 399.6,285.97 389.3,287.05 378.99,285.52 368.68,273.87 358.37,272.58 348.06,237.54 337.75,271.48 327.44,205.44 317.13,273.42 306.82,285.1 296.51,271.08 286.2,283.16 275.89,256.14 265.58,283.17 255.27,274.53 244.96,284.47 234.65,301.53 224.34,285.57 214.03,280.62 203.72,252.47 193.41,283.81 183.1,283.37 172.8,259.17 162.49,271.5 152.18,213.3 141.87,207.04 131.56,249.39 121.25,277.52 110.94,245.73 100.63,246.39 90.32,260.46 80.01,246.42 69.7,229.4" fill="#B7C0F6"/>
<g clip-path="url(#cp1)">
<path d="M71.01 229.11L78.7 242.37M81.42 246.8L88.91 258.45M92.13 258.77L98.82 251.89M103.18 249.55L108.38 248.56M111.72 250.56L120.47 278.51M121.98 278.49L130.82 248.41M132.3 243.42L141.12 213.98M144.33 212.32L149.71 214.13M152.63 217.52L162.03 270.85M163.76 271.14L171.52 257.28M173.62 257.47L182.28 283.5M185.57 285.14L190.95 283.33M194.2 280.03L202.94 252.51M204.55 252.5L213.21 278.52M216.47 280.07L221.91 278.01M225.34 279.49L233.66 299.59M235.89 299.7L243.72 285.22M246.97 281.29L253.26 276.14M257.28 276.14L263.57 281.29M266.4 280.47L275.07 254.44M276.71 254.44L285.38 280.47M287.45 280.66L295.26 266.38M297.66 266.43L305.67 282.77M308.39 283.03L315.56 273.54M317.49 268.89L327.07 201.51M327.8 201.51L337.38 269.1M338.43 269.17L347.37 236.52M348.84 236.49L357.58 264M360.83 267.31L366.21 269.12M370.17 272.08L377.49 282.54M381.59 284.61L386.7 284.51M391.89 284.62L397.01 284.94M402.2 285.32L407.32 285.75M412.39 285.19L417.74 283.5M421.1 280.27L429.66 256.37M431.68 256.26L439.7 272.59M442.6 273.01L449.4 265.59M451.95 266.14L460.67 293.23M462.62 293.38L470.62 277.26M474.19 275.89L479.67 278.08M483.7 277L490.77 268.09M493.93 268.15L501.16 278.02" fill="none" stroke="#1414F5" stroke-width="1.5"/>
<circle cx="69.7" cy="226.86" r="2.2" fill="#1414F5"/>
<circle cx="80.01" cy="244.62" r="2.2" fill="#1414F5"/>
<circle cx="90.32" cy="260.64" r="2.2" fill="#1414F5"/>
<circle cx="100.63" cy="250.03" r="2.2" fill="#1414F5"/>
<circle cx="110.94" cy="248.08" r="2.2" fill="#1414F5"/>
<circle cx="121.25" cy="280.99" r="2.2" fill="#1414F5"/>
<circle cx="131.56" cy="245.92" r="2.2" fill="#1414F5"/>
<circle cx="141.87" cy="211.49" r="2.2" fill="#1414F5"/>
<circle cx="152.18" cy="214.96" r="2.2" fill="#1414F5"/>
<circle cx="162.49" cy="273.41" r="2.2" fill="#1414F5"/>
<circle cx="172.8" cy="255.01" r="2.2" fill="#1414F5"/>
<circle cx="183.1" cy="285.97" r="2.2" fill="#1414F5"/>
<circle cx="193.41" cy="282.5" r="2.2" fill="#1414F5"/>
<circle cx="203.72" cy="250.03" r="2.2" fill="#1414F5"/>
<circle cx="214.03" cy="280.99" r="2.2" fill="#1414F5"/>
<circle cx="224.34" cy="277.09" r="2.2" fill="#1414F5"/>
<circle cx="234.65" cy="301.99" r="2.2" fill="#1414F5"/>
<circle cx="244.96" cy="282.94" r="2.2" fill="#1414F5"/>
<circle cx="255.27" cy="274.49" r="2.2" fill="#1414F5"/>
<circle cx="265.58" cy="282.94" r="2.2" fill="#1414F5"/>
<circle cx="275.89" cy="251.98" r="2.2" fill="#1414F5"/>
<circle cx="286.2" cy="282.94" r="2.2" fill="#1414F5"/>
<circle cx="296.51" cy="264.1" r="2.2" fill="#1414F5"/>
<circle cx="306.82" cy="285.1" r="2.2" fill="#1414F5"/>
<circle cx="317.13" cy="271.46" r="2.2" fill="#1414F5"/>
<circle cx="327.44" cy="198.93" r="2.2" fill="#1414F5"/>
<circle cx="337.75" cy="271.68" r="2.2" fill="#1414F5"/>
<circle cx="348.06" cy="234.01" r="2.2" fill="#1414F5"/>
<circle cx="358.37" cy="266.48" r="2.2" fill="#1414F5"/>
<circle cx="368.68" cy="269.95" r="2.2" fill="#1414F5"/>
<circle cx="378.99" cy="284.67" r="2.2" fill="#1414F5"/>
<circle cx="389.3" cy="284.45" r="2.2" fill="#1414F5"/>
<circle cx="399.6" cy="285.1" r="2.2" fill="#1414F5"/>
<circle cx="409.91" cy="285.97" r="2.2" fill="#1414F5"/>
<circle cx="420.22" cy="282.72" r="2.2" fill="#1414F5"/>
<circle cx="430.53" cy="253.93" r="2.2" fill="#1414F5"/>
<circle cx="440.84" cy="274.93" r="2.2" fill="#1414F5"/>
<circle cx="451.15" cy="263.67" r="2.2" fill="#1414F5"/>
<circle cx="461.46" cy="295.71" r="2.2" fill="#1414F5"/>
<circle cx="471.77" cy="274.93" r="2.2" fill="#1414F5"/>
<circle cx="482.08" cy="279.04" r="2.2" fill="#1414F5"/>
<circle cx="492.39" cy="266.05" r="2.2" fill="#1414F5"/>
<circle cx="502.7" cy="280.12" r="2.2" fill="#1414F5"/>
</g>
<rect x="69.7" y="178.8" width="433" height="129.9" fill="none" stroke="#000" stroke-width="1.45"/>
<line x1="64.7" y1="308.7" x2="69.7" y2="308.7" stroke="#000" stroke-width="1.45"/>
<text x="61" y="312.8" font-size="12.2" text-anchor="end">0</text>
<line x1="64.7" y1="287.05" x2="69.7" y2="287.05" stroke="#000" stroke-width="1.45"/>
<text x="61" y="291.15" font-size="12.2" text-anchor="end">10</text>
<line x1="64.7" y1="265.4" x2="69.7" y2="265.4" stroke="#000" stroke-width="1.45"/>
<text x="61" y="269.5" font-size="12.2" text-anchor="end">20</text>
<line x1="64.7" y1="243.75" x2="69.7" y2="243.75" stroke="#000" stroke-width="1.45"/>
<text x="61" y="247.85" font-size="12.2" text-anchor="end">30</text>
<line x1="64.7" y1="222.1" x2="69.7" y2="222.1" stroke="#000" stroke-width="1.45"/>
<text x="61" y="226.2" font-size="12.2" text-anchor="end">40</text>
<line x1="64.7" y1="200.45" x2="69.7" y2="200.45" stroke="#000" stroke-width="1.45"/>
<text x="61" y="204.55" font-size="12.2" text-anchor="end">50</text>
<line x1="64.7" y1="178.8" x2="69.7" y2="178.8" stroke="#000" stroke-width="1.45"/>
<text x="61" y="182.9" font-size="12.2" text-anchor="end">60</text>
<line x1="69.7" y1="308.7" x2="69.7" y2="313.6" stroke="#000" stroke-width="1.45"/>
<text x="69.7" y="327.2" font-size="12.15" text-anchor="middle">2022/01/01</text>
<line x1="141.87" y1="308.7" x2="141.87" y2="313.6" stroke="#000" stroke-width="1.45"/>
<text x="141.87" y="327.2" font-size="12.15" text-anchor="middle">2022/1/15</text>
<line x1="214.03" y1="308.7" x2="214.03" y2="313.6" stroke="#000" stroke-width="1.45"/>
<text x="214.03" y="327.2" font-size="12.15" text-anchor="middle">2022/01/29</text>
<line x1="286.2" y1="308.7" x2="286.2" y2="313.6" stroke="#000" stroke-width="1.45"/>
<text x="286.2" y="327.2" font-size="12.15" text-anchor="middle">2022/02/14</text>
<line x1="348.06" y1="308.7" x2="348.06" y2="313.6" stroke="#000" stroke-width="1.45"/>
<text x="348.06" y="327.2" font-size="12.15" text-anchor="middle">2022/03/02</text>
<line x1="420.22" y1="308.7" x2="420.22" y2="313.6" stroke="#000" stroke-width="1.45"/>
<text x="420.22" y="327.2" font-size="12.15" text-anchor="middle">2022/03/16</text>
<line x1="502.7" y1="308.7" x2="502.7" y2="313.6" stroke="#000" stroke-width="1.45"/>
<text x="502.7" y="327.2" font-size="12.15" text-anchor="middle">2022/03/31</text>
</g>
<g>
<clipPath id="cp2"><rect x="69.7" y="343.45" width="433" height="129.9"/></clipPath>
<polygon points="69.7,443.26 80.26,442.17 90.82,452.78 101.38,453.65 111.94,454.3 122.5,461.23 133.07,465.99 143.63,458.41 154.19,451.27 164.75,458.41 175.31,459.93 185.87,454.3 196.43,455.38 206.99,460.36 217.55,456.68 228.11,459.93 238.68,451.27 249.24,461.88 259.8,456.25 270.36,458.41 280.92,446.29 291.48,453.87 302.04,458.41 312.6,447.37 323.16,458.41 333.72,458.41 344.29,428.32 354.85,448.24 365.41,453.22 375.97,458.63 386.53,446.72 397.09,454.3 407.65,448.24 418.21,457.33 428.77,454.3 439.33,459.28 449.9,464.26 460.46,466.42 471.02,464.69 481.58,464.26 492.14,458.41 502.7,464.26 502.7,473.35 492.14,473.35 481.58,473.35 471.02,473.35 460.46,473.35 449.9,473.35 439.33,473.35 428.77,473.35 418.21,473.35 407.65,473.35 397.09,473.35 386.53,473.35 375.97,473.35 365.41,473.35 354.85,473.35 344.29,473.35 333.72,473.35 323.16,473.35 312.6,473.35 302.04,473.35 291.48,473.35 280.92,473.35 270.36,473.35 259.8,473.35 249.24,473.35 238.68,473.35 228.11,473.35 217.55,473.35 206.99,473.35 196.43,473.35 185.87,473.35 175.31,473.35 164.75,473.35 154.19,473.35 143.63,473.35 133.07,473.35 122.5,473.35 111.94,473.35 101.38,473.35 90.82,473.35 80.26,473.35 69.7,473.35" fill="#00E200"/>
<polygon points="69.7,429.18 80.26,432.22 90.82,444.34 101.38,450.4 111.94,447.37 122.5,458.41 133.07,460.36 143.63,443.26 154.19,442.17 164.75,440.23 175.31,438.28 185.87,442.17 196.43,447.37 206.99,454.3 217.55,448.24 228.11,449.32 238.68,444.34 249.24,455.38 259.8,450.83 270.36,447.37 280.92,436.33 291.48,442.17 302.04,436.33 312.6,435.9 323.16,438.28 333.72,445.21 344.29,415.11 354.85,431.35 365.41,442.17 375.97,450.83 386.53,433.3 397.09,442.17 407.65,428.32 418.21,444.34 428.77,442.17 439.33,449.32 449.9,456.25 460.46,453.22 471.02,452.35 481.58,458.41 492.14,450.4 502.7,458.41 502.7,464.66 492.14,458.81 481.58,464.66 471.02,465.09 460.46,466.82 449.9,464.66 439.33,459.68 428.77,454.7 418.21,457.73 407.65,448.64 397.09,454.7 386.53,447.12 375.97,459.03 365.41,453.62 354.85,448.64 344.29,428.72 333.72,458.81 323.16,458.81 312.6,447.77 302.04,458.81 291.48,454.26 280.92,446.69 270.36,458.81 259.8,456.65 249.24,462.28 238.68,451.67 228.11,460.33 217.55,457.08 206.99,460.76 196.43,455.78 185.87,454.7 175.31,460.33 164.75,458.81 154.19,451.67 143.63,458.81 133.07,466.39 122.5,461.63 111.94,454.7 101.38,454.05 90.82,453.18 80.26,442.57 69.7,443.66" fill="#FF0000"/>
<polygon points="69.7,417.28 80.26,427.67 90.82,439.36 101.38,447.37 111.94,444.34 122.5,456.25 133.07,457.33 143.63,437.19 154.19,438.71 164.75,431.35 175.31,432.22 185.87,437.19 196.43,442.61 206.99,451.27 217.55,444.77 228.11,443.91 238.68,435.25 249.24,452.78 259.8,448.24 270.36,445.85 280.92,431.35 291.48,439.36 302.04,424.2 312.6,427.24 323.16,433.3 333.72,440.23 344.29,404.29 354.85,418.14 365.41,436.33 375.97,449.32 386.53,428.32 397.09,439.36 407.65,425.29 418.21,439.36 428.77,440.23 439.33,446.94 449.9,454.3 460.46,451.27 471.02,450.4 481.58,455.81 492.14,443.26 502.7,454.3 502.7,458.81 492.14,450.8 481.58,458.81 471.02,452.75 460.46,453.62 449.9,456.65 439.33,449.72 428.77,442.57 418.21,444.74 407.65,428.72 397.09,442.57 386.53,433.7 375.97,451.23 365.41,442.57 354.85,431.75 344.29,415.51 333.72,445.61 323.16,438.68 312.6,436.3 302.04,436.73 291.48,442.57 280.92,436.73 270.36,447.77 259.8,451.23 249.24,455.78 238.68,444.74 228.11,449.72 217.55,448.64 206.99,454.7 196.43,447.77 185.87,442.57 175.31,438.68 164.75,440.63 154.19,442.57 143.63,443.66 133.07,460.76 122.5,458.81 111.94,447.77 101.38,450.8 90.82,444.74 80.26,432.62 69.7,429.58" fill="#1E82FF"/>
<polygon points="69.7,407.1 80.26,424.2 90.82,436.76 101.38,445.21 111.94,441.31 122.5,454.3 133.07,455.38 143.63,432.65 154.19,435.25 164.75,427.24 175.31,425.07 185.87,433.3 196.43,439.36 206.99,449.32 217.55,442.17 228.11,439.36 238.68,430.27 249.24,450.4 259.8,445.21 270.36,442.61 280.92,424.2 291.48,436.33 302.04,411.21 312.6,422.26 323.16,425.29 333.72,435.25 344.29,398.22 354.85,410.13 365.41,432.22 375.97,446.72 386.53,422.26 397.09,435.25 407.65,419.23 418.21,434.16 428.77,436.33 439.33,442.17 449.9,451.27 460.46,448.24 471.02,446.29 481.58,453.22 492.14,438.28 502.7,450.4 502.7,454.7 492.14,443.66 481.58,456.21 471.02,450.8 460.46,451.67 449.9,454.7 439.33,447.34 428.77,440.63 418.21,439.76 407.65,425.69 397.09,439.76 386.53,428.72 375.97,449.72 365.41,436.73 354.85,418.54 344.29,404.69 333.72,440.63 323.16,433.7 312.6,427.64 302.04,424.6 291.48,439.76 280.92,431.75 270.36,446.25 259.8,448.64 249.24,453.18 238.68,435.65 228.11,444.31 217.55,445.17 206.99,451.67 196.43,443.01 185.87,437.59 175.31,432.62 164.75,431.75 154.19,439.11 143.63,437.59 133.07,457.73 122.5,456.65 111.94,444.74 101.38,447.77 90.82,439.76 80.26,428.07 69.7,417.68" fill="#FFFF00"/>
<polygon points="69.7,399.09 80.26,420.31 90.82,434.16 101.38,442.17 111.94,438.28 122.5,451.27 133.07,453.22 143.63,428.32 154.19,431.35 164.75,424.85 175.31,422.91 185.87,429.18 196.43,435.9 206.99,446.29 217.55,439.79 228.11,436.33 238.68,426.59 249.24,448.24 259.8,442.17 270.36,440.23 280.92,419.23 291.48,433.3 302.04,405.15 312.6,419.23 323.16,421.82 333.72,432.22 344.29,392.16 354.85,402.12 365.41,426.15 375.97,442.17 386.53,417.28 397.09,431.35 407.65,413.16 418.21,431.35 428.77,433.3 439.33,439.36 449.9,449.32 460.46,446.29 471.02,443.91 481.58,450.4 492.14,434.16 502.7,447.37 502.7,450.8 492.14,438.68 481.58,453.62 471.02,446.69 460.46,448.64 449.9,451.67 439.33,442.57 428.77,436.73 418.21,434.56 407.65,419.62 397.09,435.65 386.53,422.66 375.97,447.12 365.41,432.62 354.85,410.53 344.29,398.62 333.72,435.65 323.16,425.69 312.6,422.66 302.04,411.61 291.48,436.73 280.92,424.6 270.36,443.01 259.8,445.61 249.24,450.8 238.68,430.67 228.11,439.76 217.55,442.57 206.99,449.72 196.43,439.76 185.87,433.7 175.31,425.47 164.75,427.64 154.19,435.65 143.63,433.05 133.07,455.78 122.5,454.7 111.94,441.71 101.38,445.61 90.82,437.16 80.26,424.6 69.7,407.5" fill="#3A3A3A"/>
<polygon points="69.7,397.1 80.26,419.1 90.82,433.04 101.38,441.39 111.94,437.32 122.5,450.49 133.07,452.44 143.63,427.37 154.19,430.14 164.75,415.54 175.31,417.71 185.87,425.94 196.43,433.3 206.99,445.33 217.55,438.75 228.11,435.38 238.68,425.46 249.24,447.46 259.8,441.39 270.36,439.45 280.92,418.45 291.48,432.52 302.04,403.94 312.6,418.45 323.16,421.04 333.72,431.44 344.29,390.95 354.85,400.91 365.41,425.2 375.97,441.05 386.53,416.06 397.09,430.14 407.65,411.6 418.21,430.48 428.77,432.52 439.33,438.67 449.9,448.54 460.46,445.68 471.02,443.21 481.58,449.54 492.14,433.38 502.7,446.5 502.7,447.77 492.14,434.56 481.58,450.8 471.02,444.31 460.46,446.69 449.9,449.72 439.33,439.76 428.77,433.7 418.21,431.75 407.65,413.56 397.09,431.75 386.53,417.68 375.97,442.57 365.41,426.55 354.85,402.52 344.29,392.56 333.72,432.62 323.16,422.22 312.6,419.62 302.04,405.55 291.48,433.7 280.92,419.62 270.36,440.63 259.8,442.57 249.24,448.64 238.68,426.99 228.11,436.73 217.55,440.19 206.99,446.69 196.43,436.3 185.87,429.58 175.31,423.31 164.75,425.25 154.19,431.75 143.63,428.72 133.07,453.62 122.5,451.67 111.94,438.68 101.38,442.57 90.82,434.56 80.26,420.71 69.7,399.49" fill="#0B7D18"/>
<polygon points="69.7,396.95 80.26,419 90.82,432.95 101.38,441.34 111.94,437.25 122.5,450.43 133.07,452.38 143.63,427.29 154.19,430.05 164.75,415.26 175.31,417.49 185.87,425.77 196.43,433.2 206.99,445.26 217.55,438.68 228.11,435.3 238.68,425.38 249.24,447.4 259.8,441.34 270.36,439.39 280.92,418.39 291.48,432.46 302.04,403.85 312.6,418.39 323.16,420.99 333.72,431.38 344.29,390.86 354.85,400.82 365.41,425.13 375.97,440.96 386.53,415.97 397.09,430.05 407.65,411.49 418.21,430.42 428.77,432.46 439.33,438.61 449.9,448.48 460.46,445.64 471.02,443.16 481.58,449.47 492.14,433.33 502.7,446.44 502.7,446.9 492.14,433.78 481.58,449.94 471.02,443.61 460.46,446.08 449.9,448.94 439.33,439.07 428.77,432.92 418.21,430.88 407.65,412 397.09,430.54 386.53,416.46 375.97,441.45 365.41,425.6 354.85,401.31 344.29,391.35 333.72,431.84 323.16,421.44 312.6,418.85 302.04,404.34 291.48,432.92 280.92,418.85 270.36,439.85 259.8,441.79 249.24,447.86 238.68,425.86 228.11,435.78 217.55,439.15 206.99,445.73 196.43,433.7 185.87,426.34 175.31,418.11 164.75,415.94 154.19,430.54 143.63,427.77 133.07,452.84 122.5,450.89 111.94,437.72 101.38,441.79 90.82,433.44 80.26,419.5 69.7,397.5" fill="#FF3CFF"/>
<polygon points="69.7,396.74 80.26,418.88 90.82,432.84 101.38,441.25 111.94,437.15 122.5,450.35 133.07,452.3 143.63,427.19 154.19,429.92 164.75,414.87 175.31,417.19 185.87,425.55 196.43,433.06 206.99,445.16 217.55,438.57 228.11,435.2 238.68,425.26 249.24,447.32 259.8,441.25 270.36,439.31 280.92,418.31 291.48,432.38 302.04,403.72 312.6,418.31 323.16,420.9 333.72,431.3 344.29,390.73 354.85,400.69 365.41,425.03 375.97,440.85 386.53,415.85 397.09,429.92 407.65,411.32 418.21,430.33 428.77,432.38 439.33,438.54 449.9,448.4 460.46,445.57 471.02,443.09 481.58,449.38 492.14,433.24 502.7,446.35 502.7,446.84 492.14,433.73 481.58,449.87 471.02,443.56 460.46,446.04 449.9,448.88 439.33,439.01 428.77,432.86 418.21,430.82 407.65,411.89 397.09,430.45 386.53,416.37 375.97,441.36 365.41,425.53 354.85,401.22 344.29,391.26 333.72,431.78 323.16,421.39 312.6,418.79 302.04,404.25 291.48,432.86 280.92,418.79 270.36,439.79 259.8,441.74 249.24,447.8 238.68,425.78 228.11,435.7 217.55,439.08 206.99,445.66 196.43,433.6 185.87,426.17 175.31,417.89 164.75,415.66 154.19,430.45 143.63,427.69 133.07,452.78 122.5,450.83 111.94,437.65 101.38,441.74 90.82,433.35 80.26,419.4 69.7,397.35" fill="#B8770F"/>
<polygon points="69.7,396.62 80.26,418.8 90.82,432.77 101.38,441.21 111.94,437.1 122.5,450.3 133.07,452.25 143.63,427.14 154.19,429.85 164.75,414.64 175.31,417.02 185.87,425.42 196.43,432.99 206.99,445.11 217.55,438.5 228.11,435.15 238.68,425.19 249.24,447.27 259.8,441.21 270.36,439.26 280.92,418.26 291.48,432.33 302.04,403.65 312.6,418.26 323.16,420.86 333.72,431.25 344.29,390.66 354.85,400.62 365.41,424.97 375.97,440.78 386.53,415.77 397.09,429.85 407.65,411.23 418.21,430.28 428.77,432.33 439.33,438.5 449.9,448.35 460.46,445.54 471.02,443.05 481.58,449.33 492.14,433.2 502.7,446.3 502.7,446.75 492.14,433.64 481.58,449.78 471.02,443.49 460.46,445.97 449.9,448.8 439.33,438.94 428.77,432.78 418.21,430.73 407.65,411.72 397.09,430.32 386.53,416.25 375.97,441.25 365.41,425.43 354.85,401.09 344.29,391.13 333.72,431.7 323.16,421.3 312.6,418.71 302.04,404.12 291.48,432.78 280.92,418.71 270.36,439.71 259.8,441.65 249.24,447.72 238.68,425.66 228.11,435.6 217.55,438.97 206.99,445.56 196.43,433.46 185.87,425.95 175.31,417.59 164.75,415.27 154.19,430.32 143.63,427.59 133.07,452.7 122.5,450.75 111.94,437.55 101.38,441.65 90.82,433.24 80.26,419.28 69.7,397.14" fill="#CDF2C3"/>
<polygon points="69.7,394.29 80.26,417.39 90.82,431.45 101.38,440.3 111.94,435.98 122.5,449.39 133.07,451.34 143.63,426.02 154.19,428.43 164.75,410.25 175.31,413.64 185.87,422.88 196.43,431.47 206.99,443.99 217.55,437.29 228.11,434.03 238.68,423.87 249.24,446.36 259.8,440.3 270.36,438.35 280.92,417.35 291.48,431.42 302.04,402.23 312.6,417.35 323.16,419.94 333.72,430.34 344.29,389.24 354.85,399.2 365.41,423.86 375.97,439.46 386.53,414.35 397.09,428.43 407.65,409.41 418.21,429.26 428.77,431.42 439.33,437.69 449.9,447.44 460.46,444.83 471.02,442.24 481.58,448.31 492.14,432.29 502.7,445.28 502.7,446.7 492.14,433.6 481.58,449.73 471.02,443.45 460.46,445.94 449.9,448.75 439.33,438.9 428.77,432.73 418.21,430.68 407.65,411.63 397.09,430.25 386.53,416.17 375.97,441.18 365.41,425.37 354.85,401.02 344.29,391.06 333.72,431.65 323.16,421.26 312.6,418.66 302.04,404.05 291.48,432.73 280.92,418.66 270.36,439.66 259.8,441.61 249.24,447.67 238.68,425.59 228.11,435.55 217.55,438.9 206.99,445.51 196.43,433.39 185.87,425.82 175.31,417.42 164.75,415.04 154.19,430.25 143.63,427.54 133.07,452.65 122.5,450.7 111.94,437.5 101.38,441.61 90.82,433.17 80.26,419.2 69.7,397.02" fill="#15465E"/>
<polygon points="69.7,394.11 80.26,417.28 90.82,431.35 101.38,440.23 111.94,435.9 122.5,449.32 133.07,451.27 143.63,425.94 154.19,428.32 164.75,409.92 175.31,413.38 185.87,422.69 196.43,431.35 206.99,443.91 217.55,437.19 228.11,433.95 238.68,423.77 249.24,446.29 259.8,440.23 270.36,438.28 280.92,417.28 291.48,431.35 302.04,402.12 312.6,417.28 323.16,419.87 333.72,430.27 344.29,389.13 354.85,399.09 365.41,423.77 375.97,439.36 386.53,414.25 397.09,428.32 407.65,409.27 418.21,429.18 428.77,431.35 439.33,437.63 449.9,447.37 460.46,444.77 471.02,442.17 481.58,448.24 492.14,432.22 502.7,445.21 502.7,445.68 492.14,432.69 481.58,448.71 471.02,442.64 460.46,445.23 449.9,447.84 439.33,438.09 428.77,431.82 418.21,429.66 407.65,409.81 397.09,428.83 386.53,414.75 375.97,439.86 365.41,424.26 354.85,399.6 344.29,389.64 333.72,430.74 323.16,420.34 312.6,417.75 302.04,402.63 291.48,431.82 280.92,417.75 270.36,438.75 259.8,440.7 249.24,446.76 238.68,424.27 228.11,434.43 217.55,437.69 206.99,444.39 196.43,431.87 185.87,423.28 175.31,414.04 164.75,410.65 154.19,428.83 143.63,426.42 133.07,451.74 122.5,449.79 111.94,436.38 101.38,440.7 90.82,431.85 80.26,417.79 69.7,394.69" fill="#B7C0F6"/>
<g clip-path="url(#cp2)">
<path d="M70.75 394.11L79.21 413.38M82.02 417.67L89.06 425.32M91.9 429.6L100.3 448.04M103.68 449.18L109.65 445.99M113.87 446.51L120.57 452.56M124.91 453.31L130.66 450.95M134.35 447.71L142.34 433.61M146 430.28L151.82 427.65M155.04 424.13L163.89 398.73M167.06 397.46L173 400.5M176.92 403.73L184.26 413.07M188.13 416.41L194.18 419.88M197.69 423.45L205.73 437.95M209.31 439.04L215.24 436M219.56 433.16L226.1 427.8M230.17 424.56L236.62 419.52M239.52 420.39L248.4 446.42M251.82 449.15L257.21 449.7M260.72 447.54L269.43 424.69M272.03 420.27L279.25 411.69M282.99 411.27L289.41 416.14M292.3 415.24L301.22 388.57M303.3 388.37L311.34 402.88M314.76 406.61L321.01 410.84M325.15 413.97L331.73 419.5M334.34 418.65L343.67 380.18M345.69 379.85L353.44 391.92M355.92 396.48L364.33 414.91M366.87 419.43L374.51 430.71M376.83 430.41L385.67 405.22M387.54 405.17L396.08 425.49M397.98 425.44L406.76 401.32M408.87 401.17L416.99 416.49M419.55 421.02L427.43 434.1M431.37 436.17L436.74 435.84M441.01 437.67L448.22 446.25M452.21 447.05L458.14 444.01M462.98 442.2L468.49 440.85M472.95 441.97L479.65 448.01M482.57 447.35L491.15 426.61M493.31 426.53L501.53 442.88" fill="none" stroke="#1414F5" stroke-width="1.5"/>
<circle cx="69.7" cy="391.73" r="2.2" fill="#1414F5"/>
<circle cx="80.26" cy="415.76" r="2.2" fill="#1414F5"/>
<circle cx="90.82" cy="427.24" r="2.2" fill="#1414F5"/>
<circle cx="101.38" cy="450.4" r="2.2" fill="#1414F5"/>
<circle cx="111.94" cy="444.77" r="2.2" fill="#1414F5"/>
<circle cx="122.5" cy="454.3" r="2.2" fill="#1414F5"/>
<circle cx="133.07" cy="449.97" r="2.2" fill="#1414F5"/>
<circle cx="143.63" cy="431.35" r="2.2" fill="#1414F5"/>
<circle cx="154.19" cy="426.59" r="2.2" fill="#1414F5"/>
<circle cx="164.75" cy="396.28" r="2.2" fill="#1414F5"/>
<circle cx="175.31" cy="401.69" r="2.2" fill="#1414F5"/>
<circle cx="185.87" cy="415.11" r="2.2" fill="#1414F5"/>
<circle cx="196.43" cy="421.17" r="2.2" fill="#1414F5"/>
<circle cx="206.99" cy="440.23" r="2.2" fill="#1414F5"/>
<circle cx="217.55" cy="434.81" r="2.2" fill="#1414F5"/>
<circle cx="228.11" cy="426.15" r="2.2" fill="#1414F5"/>
<circle cx="238.68" cy="417.93" r="2.2" fill="#1414F5"/>
<circle cx="249.24" cy="448.89" r="2.2" fill="#1414F5"/>
<circle cx="259.8" cy="449.97" r="2.2" fill="#1414F5"/>
<circle cx="270.36" cy="422.26" r="2.2" fill="#1414F5"/>
<circle cx="280.92" cy="409.7" r="2.2" fill="#1414F5"/>
<circle cx="291.48" cy="417.71" r="2.2" fill="#1414F5"/>
<circle cx="302.04" cy="386.1" r="2.2" fill="#1414F5"/>
<circle cx="312.6" cy="405.15" r="2.2" fill="#1414F5"/>
<circle cx="323.16" cy="412.3" r="2.2" fill="#1414F5"/>
<circle cx="333.72" cy="421.17" r="2.2" fill="#1414F5"/>
<circle cx="344.29" cy="377.66" r="2.2" fill="#1414F5"/>
<circle cx="354.85" cy="394.11" r="2.2" fill="#1414F5"/>
<circle cx="365.41" cy="417.28" r="2.2" fill="#1414F5"/>
<circle cx="375.97" cy="432.86" r="2.2" fill="#1414F5"/>
<circle cx="386.53" cy="402.77" r="2.2" fill="#1414F5"/>
<circle cx="397.09" cy="427.88" r="2.2" fill="#1414F5"/>
<circle cx="407.65" cy="398.87" r="2.2" fill="#1414F5"/>
<circle cx="418.21" cy="418.79" r="2.2" fill="#1414F5"/>
<circle cx="428.77" cy="436.33" r="2.2" fill="#1414F5"/>
<circle cx="439.33" cy="435.68" r="2.2" fill="#1414F5"/>
<circle cx="449.9" cy="448.24" r="2.2" fill="#1414F5"/>
<circle cx="460.46" cy="442.82" r="2.2" fill="#1414F5"/>
<circle cx="471.02" cy="440.23" r="2.2" fill="#1414F5"/>
<circle cx="481.58" cy="449.75" r="2.2" fill="#1414F5"/>
<circle cx="492.14" cy="424.2" r="2.2" fill="#1414F5"/>
<circle cx="502.7" cy="445.21" r="2.2" fill="#1414F5"/>
</g>
<rect x="69.7" y="343.45" width="433" height="129.9" fill="none" stroke="#000" stroke-width="1.45"/>
<line x1="64.7" y1="473.35" x2="69.7" y2="473.35" stroke="#000" stroke-width="1.45"/>
<text x="61" y="477.45" font-size="12.2" text-anchor="end">0</text>
<line x1="64.7" y1="451.7" x2="69.7" y2="451.7" stroke="#000" stroke-width="1.45"/>
<text x="61" y="455.8" font-size="12.2" text-anchor="end">10</text>
<line x1="64.7" y1="430.05" x2="69.7" y2="430.05" stroke="#000" stroke-width="1.45"/>
<text x="61" y="434.15" font-size="12.2" text-anchor="end">20</text>
<line x1="64.7" y1="408.4" x2="69.7" y2="408.4" stroke="#000" stroke-width="1.45"/>
<text x="61" y="412.5" font-size="12.2" text-anchor="end">30</text>
<line x1="64.7" y1="386.75" x2="69.7" y2="386.75" stroke="#000" stroke-width="1.45"/>
<text x="61" y="390.85" font-size="12.2" text-anchor="end">40</text>
<line x1="64.7" y1="365.1" x2="69.7" y2="365.1" stroke="#000" stroke-width="1.45"/>
<text x="61" y="369.2" font-size="12.2" text-anchor="end">50</text>
<line x1="64.7" y1="343.45" x2="69.7" y2="343.45" stroke="#000" stroke-width="1.45"/>
<text x="61" y="347.55" font-size="12.2" text-anchor="end">60</text>
<line x1="69.7" y1="473.35" x2="69.7" y2="478.25" stroke="#000" stroke-width="1.45"/>
<text x="69.7" y="491.85" font-size="12.15" text-anchor="middle">2023/01/04</text>
<line x1="133.07" y1="473.35" x2="133.07" y2="478.25" stroke="#000" stroke-width="1.45"/>
<text x="133.07" y="491.85" font-size="12.15" text-anchor="middle">2023/1/16</text>
<line x1="206.99" y1="473.35" x2="206.99" y2="478.25" stroke="#000" stroke-width="1.45"/>
<text x="206.99" y="491.85" font-size="12.15" text-anchor="middle">2023/01/31</text>
<line x1="270.36" y1="473.35" x2="270.36" y2="478.25" stroke="#000" stroke-width="1.45"/>
<text x="270.36" y="491.85" font-size="12.15" text-anchor="middle">2023/02/15</text>
<line x1="344.29" y1="473.35" x2="344.29" y2="478.25" stroke="#000" stroke-width="1.45"/>
<text x="344.29" y="491.85" font-size="12.15" text-anchor="middle">2023/03/01</text>
<line x1="418.21" y1="473.35" x2="418.21" y2="478.25" stroke="#000" stroke-width="1.45"/>
<text x="418.21" y="491.85" font-size="12.15" text-anchor="middle">2023/03/15</text>
<line x1="502.7" y1="473.35" x2="502.7" y2="478.25" stroke="#000" stroke-width="1.45"/>
<text x="502.7" y="491.85" font-size="12.15" text-anchor="middle">2023/03/31</text>
</g>
<g>
<clipPath id="cp3"><rect x="69.7" y="508" width="433" height="129.9"/></clipPath>
<polygon points="69.7,615.17 79.54,585.29 89.38,618.41 99.22,610.4 109.06,621.45 118.9,621.45 128.75,617.98 138.59,618.41 148.43,622.53 158.27,622.53 168.11,619.5 177.95,609.54 187.79,607.37 197.63,615.38 207.47,612.35 217.31,628.37 227.15,629.89 237,627.51 246.84,628.37 256.68,627.51 266.52,620.36 276.36,628.37 286.2,625.56 296.04,629.46 305.88,627.51 315.72,629.02 325.56,616.47 335.4,622.53 345.25,614.52 355.09,607.37 364.93,622.53 374.77,628.37 384.61,617.55 394.45,613 404.29,624.48 414.13,622.53 423.97,617.55 433.81,619.5 443.65,624.48 453.5,624.48 463.34,629.46 473.18,624.48 483.02,621.45 492.86,617.55 502.7,623.39 502.7,637.9 492.86,637.9 483.02,637.9 473.18,637.9 463.34,637.9 453.5,637.9 443.65,637.9 433.81,637.9 423.97,637.9 414.13,637.9 404.29,637.9 394.45,637.9 384.61,637.9 374.77,637.9 364.93,637.9 355.09,637.9 345.25,637.9 335.4,637.9 325.56,637.9 315.72,637.9 305.88,637.9 296.04,637.9 286.2,637.9 276.36,637.9 266.52,637.9 256.68,637.9 246.84,637.9 237,637.9 227.15,637.9 217.31,637.9 207.47,637.9 197.63,637.9 187.79,637.9 177.95,637.9 168.11,637.9 158.27,637.9 148.43,637.9 138.59,637.9 128.75,637.9 118.9,637.9 109.06,637.9 99.22,637.9 89.38,637.9 79.54,637.9 69.7,637.9" fill="#00E200"/>
<polygon points="69.7,607.16 79.54,575.33 89.38,608.46 99.22,596.33 109.06,612.35 118.9,609.54 128.75,612.35 138.59,611.49 148.43,616.47 158.27,614.08 168.11,613 177.95,602.39 187.79,599.36 197.63,609.54 207.47,605.42 217.31,624.48 227.15,625.99 237,622.96 246.84,624.48 256.68,622.53 266.52,603.48 276.36,617.55 286.2,615.38 296.04,622.53 305.88,617.55 315.72,619.5 325.56,607.37 335.4,617.55 345.25,608.46 355.09,598.5 364.93,615.38 374.77,617.55 384.61,608.46 394.45,599.36 404.29,617.55 414.13,613.44 423.97,601.31 433.81,607.37 443.65,619.5 453.5,619.5 463.34,621.45 473.18,612.35 483.02,613.44 492.86,605.42 502.7,614.52 502.7,623.79 492.86,617.95 483.02,621.85 473.18,624.88 463.34,629.86 453.5,624.88 443.65,624.88 433.81,619.9 423.97,617.95 414.13,622.93 404.29,624.88 394.45,613.4 384.61,617.95 374.77,628.77 364.93,622.93 355.09,607.77 345.25,614.92 335.4,622.93 325.56,616.87 315.72,629.42 305.88,627.91 296.04,629.86 286.2,625.96 276.36,628.77 266.52,620.76 256.68,627.91 246.84,628.77 237,627.91 227.15,630.29 217.31,628.77 207.47,612.75 197.63,615.78 187.79,607.77 177.95,609.94 168.11,619.9 158.27,622.93 148.43,622.93 138.59,618.81 128.75,618.38 118.9,621.85 109.06,621.85 99.22,610.8 89.38,618.81 79.54,585.69 69.7,615.57" fill="#FF0000"/>
<polygon points="69.7,596.33 79.54,552.38 89.38,606.51 99.22,573.38 109.06,609.54 118.9,604.34 128.75,610.4 138.59,607.37 148.43,611.49 158.27,595.9 168.11,596.98 177.95,584.42 187.79,580.31 197.63,592.43 207.47,582.48 217.31,621.45 227.15,624.26 237,619.5 246.84,620.8 256.68,617.98 266.52,594.38 276.36,613.44 286.2,612.35 296.04,618.41 305.88,614.52 315.72,617.12 325.56,602.39 335.4,613 345.25,605.42 355.09,567.32 364.93,605.42 374.77,613 384.61,602.39 394.45,582.48 404.29,609.54 414.13,608.46 423.97,592.43 433.81,603.48 443.65,617.55 453.5,617.12 463.34,619.06 473.18,610.4 483.02,611.05 492.86,602.39 502.7,611.49 502.7,614.92 492.86,605.82 483.02,613.84 473.18,612.75 463.34,621.85 453.5,619.9 443.65,619.9 433.81,607.77 423.97,601.71 414.13,613.84 404.29,617.95 394.45,599.76 384.61,608.86 374.77,617.95 364.93,615.78 355.09,598.9 345.25,608.86 335.4,617.95 325.56,607.77 315.72,619.9 305.88,617.95 296.04,622.93 286.2,615.78 276.36,617.95 266.52,603.88 256.68,622.93 246.84,624.88 237,623.36 227.15,626.39 217.31,624.88 207.47,605.82 197.63,609.94 187.79,599.76 177.95,602.79 168.11,613.4 158.27,614.48 148.43,616.87 138.59,611.89 128.75,612.75 118.9,609.94 109.06,612.75 99.22,596.73 89.38,608.86 79.54,575.73 69.7,607.56" fill="#1E82FF"/>
<polygon points="69.7,593.3 79.54,544.37 89.38,603.48 99.22,562.34 109.06,606.51 118.9,599.36 128.75,607.37 138.59,604.34 148.43,607.37 158.27,589.4 168.11,591.35 177.95,579.44 187.79,574.25 197.63,585.29 207.47,577.28 217.31,620.36 227.15,622.96 237,617.77 246.84,619.06 256.68,616.03 266.52,589.4 276.36,610.4 286.2,609.54 296.04,616.47 305.88,611.49 315.72,614.52 325.56,598.5 335.4,610.4 345.25,603.48 355.09,554.33 364.93,601.31 374.77,609.54 384.61,596.33 394.45,572.3 404.29,605.42 414.13,605.42 423.97,585.29 433.81,600.45 443.65,616.03 453.5,614.52 463.34,616.47 473.18,606.94 483.02,607.81 492.86,597.41 502.7,607.37 502.7,611.89 492.86,602.79 483.02,611.45 473.18,610.8 463.34,619.46 453.5,617.52 443.65,617.95 433.81,603.88 423.97,592.83 414.13,608.86 404.29,609.94 394.45,582.88 384.61,602.79 374.77,613.4 364.93,605.82 355.09,567.72 345.25,605.82 335.4,613.4 325.56,602.79 315.72,617.52 305.88,614.92 296.04,618.81 286.2,612.75 276.36,613.84 266.52,594.78 256.68,618.38 246.84,621.2 237,619.9 227.15,624.66 217.31,621.85 207.47,582.88 197.63,592.83 187.79,580.71 177.95,584.82 168.11,597.38 158.27,596.3 148.43,611.89 138.59,607.77 128.75,610.8 118.9,604.74 109.06,609.94 99.22,573.78 89.38,606.91 79.54,552.78 69.7,596.73" fill="#FFFF00"/>
<polygon points="69.7,591.57 79.54,535.28 89.38,601.1 99.22,556.28 109.06,601.31 118.9,594.38 128.75,603.48 138.59,600.45 148.43,603.48 158.27,584.42 168.11,586.37 177.95,573.38 187.79,568.4 197.63,581.39 207.47,570.35 217.31,619.28 227.15,621.88 237,615.38 246.84,617.55 256.68,613.65 266.52,585.29 276.36,608.46 286.2,606.72 296.04,614.08 305.88,609.54 315.72,611.49 325.56,595.03 335.4,607.37 345.25,601.31 355.09,549.35 364.93,599.36 374.77,603.48 384.61,590.49 394.45,566.24 404.29,602.39 414.13,602.39 423.97,578.36 433.81,596.33 443.65,614.52 453.5,612.35 463.34,614.08 473.18,604.34 483.02,604.99 492.86,594.38 502.7,604.34 502.7,607.77 492.86,597.81 483.02,608.21 473.18,607.34 463.34,616.87 453.5,614.92 443.65,616.43 433.81,600.85 423.97,585.69 414.13,605.82 404.29,605.82 394.45,572.7 384.61,596.73 374.77,609.94 364.93,601.71 355.09,554.73 345.25,603.88 335.4,610.8 325.56,598.9 315.72,614.92 305.88,611.89 296.04,616.87 286.2,609.94 276.36,610.8 266.52,589.8 256.68,616.43 246.84,619.46 237,618.17 227.15,623.36 217.31,620.76 207.47,577.68 197.63,585.69 187.79,574.65 177.95,579.84 168.11,591.75 158.27,589.8 148.43,607.77 138.59,604.74 128.75,607.77 118.9,599.76 109.06,606.91 99.22,562.74 89.38,603.88 79.54,544.77 69.7,593.7" fill="#3A3A3A"/>
<polygon points="69.7,590.88 79.54,533.63 89.38,600.4 99.22,554.72 109.06,600.19 118.9,593.17 128.75,602.26 138.59,599.67 148.43,602.44 158.27,583.65 168.11,585.59 177.95,572.17 187.79,567.19 197.63,580.44 207.47,569.14 217.31,618.93 227.15,621.53 237,614.78 246.84,616.86 256.68,612.96 266.52,575.33 276.36,606.81 286.2,605.77 296.04,613.39 305.88,608.67 315.72,610.71 325.56,593.99 335.4,606.59 345.25,600.53 355.09,546.93 364.93,598.58 374.77,602.26 384.61,589.27 394.45,564.68 404.29,601.18 414.13,601.18 423.97,576.37 433.81,595.12 443.65,613.65 453.5,611.23 463.34,613.05 473.18,603.13 483.02,603.78 492.86,593.17 502.7,603.13 502.7,604.74 492.86,594.78 483.02,605.39 473.18,604.74 463.34,614.48 453.5,612.75 443.65,614.92 433.81,596.73 423.97,578.76 414.13,602.79 404.29,602.79 394.45,566.64 384.61,590.89 374.77,603.88 364.93,599.76 355.09,549.75 345.25,601.71 335.4,607.77 325.56,595.43 315.72,611.89 305.88,609.94 296.04,614.48 286.2,607.12 276.36,608.86 266.52,585.69 256.68,614.05 246.84,617.95 237,615.78 227.15,622.28 217.31,619.68 207.47,570.75 197.63,581.79 187.79,568.8 177.95,573.78 168.11,586.77 158.27,584.82 148.43,603.88 138.59,600.85 128.75,603.88 118.9,594.78 109.06,601.71 99.22,556.68 89.38,601.5 79.54,535.68 69.7,591.97" fill="#0B7D18"/>
<polygon points="69.7,590.82 79.54,533.51 89.38,600.35 99.22,554.6 109.06,600.1 118.9,593.08 128.75,602.17 138.59,599.61 148.43,602.36 158.27,583.59 168.11,585.54 177.95,572.08 187.79,567.1 197.63,580.37 207.47,569.05 217.31,618.91 227.15,621.51 237,614.73 246.84,616.8 256.68,612.91 266.52,575.03 276.36,606.69 286.2,605.7 296.04,613.34 305.88,608.61 315.72,610.65 325.56,593.92 335.4,606.54 345.25,600.47 355.09,546.74 364.93,598.53 374.77,602.17 384.61,589.18 394.45,564.56 404.29,601.09 414.13,601.09 423.97,576.22 433.81,595.03 443.65,613.59 453.5,611.14 463.34,612.97 473.18,603.04 483.02,603.69 492.86,593.08 502.7,603.04 502.7,603.53 492.86,593.57 483.02,604.18 473.18,603.53 463.34,613.45 453.5,611.63 443.65,614.05 433.81,595.52 423.97,576.77 414.13,601.58 404.29,601.58 394.45,565.08 384.61,589.67 374.77,602.66 364.93,598.98 355.09,547.33 345.25,600.93 335.4,606.99 325.56,594.39 315.72,611.11 305.88,609.07 296.04,613.79 286.2,606.17 276.36,607.21 266.52,575.73 256.68,613.36 246.84,617.26 237,615.18 227.15,621.93 217.31,619.33 207.47,569.54 197.63,580.84 187.79,567.59 177.95,572.57 168.11,585.99 158.27,584.05 148.43,602.84 138.59,600.07 128.75,602.66 118.9,593.57 109.06,600.59 99.22,555.12 89.38,600.8 79.54,534.03 69.7,591.28" fill="#FF3CFF"/>
<polygon points="69.7,590.75 79.54,533.34 89.38,600.28 99.22,554.44 109.06,599.98 118.9,592.95 128.75,602.05 138.59,599.53 148.43,602.25 158.27,583.5 168.11,585.45 177.95,571.95 187.79,566.97 197.63,580.27 207.47,568.92 217.31,618.87 227.15,621.47 237,614.67 246.84,616.73 256.68,612.83 266.52,574.6 276.36,606.51 286.2,605.6 296.04,613.27 305.88,608.52 315.72,610.57 325.56,593.81 335.4,606.45 345.25,600.39 355.09,546.49 364.93,598.44 374.77,602.05 384.61,589.06 394.45,564.4 404.29,600.96 414.13,600.96 423.97,576.01 433.81,594.9 443.65,613.5 453.5,611.02 463.34,612.86 473.18,602.91 483.02,603.56 492.86,592.95 502.7,602.91 502.7,603.44 492.86,593.48 483.02,604.09 473.18,603.44 463.34,613.37 453.5,611.54 443.65,613.99 433.81,595.43 423.97,576.62 414.13,601.49 404.29,601.49 394.45,564.96 384.61,589.58 374.77,602.57 364.93,598.93 355.09,547.14 345.25,600.87 335.4,606.94 325.56,594.32 315.72,611.05 305.88,609.01 296.04,613.74 286.2,606.1 276.36,607.09 266.52,575.43 256.68,613.31 246.84,617.2 237,615.13 227.15,621.91 217.31,619.31 207.47,569.45 197.63,580.77 187.79,567.5 177.95,572.48 168.11,585.94 158.27,583.99 148.43,602.76 138.59,600.01 128.75,602.57 118.9,593.48 109.06,600.5 99.22,555 89.38,600.75 79.54,533.91 69.7,591.22" fill="#B8770F"/>
<polygon points="69.7,590.71 79.54,533.24 89.38,600.24 99.22,554.35 109.06,599.92 118.9,592.88 128.75,601.97 138.59,599.48 148.43,602.19 158.27,583.46 168.11,585.41 177.95,571.88 187.79,566.9 197.63,580.21 207.47,568.85 217.31,618.85 227.15,621.45 237,614.63 246.84,616.69 256.68,612.79 266.52,574.36 276.36,606.42 286.2,605.54 296.04,613.23 305.88,608.46 315.72,610.52 325.56,593.74 335.4,606.41 345.25,600.35 355.09,546.34 364.93,598.4 374.77,601.97 384.61,588.98 394.45,564.31 404.29,600.89 414.13,600.89 423.97,575.89 433.81,594.83 443.65,613.44 453.5,610.96 463.34,612.8 473.18,602.84 483.02,603.49 492.86,592.88 502.7,602.84 502.7,603.31 492.86,593.35 483.02,603.96 473.18,603.31 463.34,613.26 453.5,611.42 443.65,613.9 433.81,595.3 423.97,576.41 414.13,601.36 404.29,601.36 394.45,564.8 384.61,589.46 374.77,602.45 364.93,598.84 355.09,546.89 345.25,600.79 335.4,606.85 325.56,594.21 315.72,610.97 305.88,608.92 296.04,613.67 286.2,606 276.36,606.91 266.52,575 256.68,613.23 246.84,617.13 237,615.07 227.15,621.87 217.31,619.27 207.47,569.32 197.63,580.67 187.79,567.37 177.95,572.35 168.11,585.85 158.27,583.9 148.43,602.65 138.59,599.93 128.75,602.45 118.9,593.35 109.06,600.38 99.22,554.84 89.38,600.68 79.54,533.74 69.7,591.15" fill="#CDF2C3"/>
<polygon points="69.7,589.9 79.54,531.31 89.38,599.43 99.22,552.52 109.06,598.6 118.9,591.46 128.75,600.55 138.59,598.57 148.43,600.97 158.27,582.55 168.11,584.49 177.95,570.46 187.79,565.48 197.63,579.1 207.47,567.43 217.31,618.45 227.15,621.04 237,613.92 246.84,615.88 256.68,611.98 266.52,569.63 276.36,604.49 286.2,604.43 296.04,612.42 305.88,607.45 315.72,609.61 325.56,592.53 335.4,605.5 345.25,599.43 355.09,543.51 364.93,597.48 374.77,600.55 384.61,587.56 394.45,562.48 404.29,599.47 414.13,599.47 423.97,573.56 433.81,593.41 443.65,612.43 453.5,609.64 463.34,611.58 473.18,601.42 483.02,602.07 492.86,591.46 502.7,601.42 502.7,603.24 492.86,593.28 483.02,603.89 473.18,603.24 463.34,613.2 453.5,611.36 443.65,613.84 433.81,595.23 423.97,576.29 414.13,601.29 404.29,601.29 394.45,564.71 384.61,589.38 374.77,602.37 364.93,598.8 355.09,546.74 345.25,600.75 335.4,606.81 325.56,594.14 315.72,610.92 305.88,608.86 296.04,613.63 286.2,605.94 276.36,606.82 266.52,574.76 256.68,613.19 246.84,617.09 237,615.03 227.15,621.85 217.31,619.25 207.47,569.25 197.63,580.61 187.79,567.3 177.95,572.28 168.11,585.81 158.27,583.86 148.43,602.59 138.59,599.88 128.75,602.37 118.9,593.28 109.06,600.32 99.22,554.75 89.38,600.64 79.54,533.64 69.7,591.11" fill="#15465E"/>
<polygon points="69.7,589.84 79.54,531.17 89.38,599.36 99.22,552.38 109.06,598.5 118.9,591.35 128.75,600.45 138.59,598.5 148.43,600.88 158.27,582.48 168.11,584.42 177.95,570.35 187.79,565.37 197.63,579.01 207.47,567.32 217.31,618.41 227.15,621.01 237,613.87 246.84,615.82 256.68,611.92 266.52,569.27 276.36,604.34 286.2,604.34 296.04,612.35 305.88,607.37 315.72,609.54 325.56,592.43 335.4,605.42 345.25,599.36 355.09,543.29 364.93,597.41 374.77,600.45 384.61,587.46 394.45,562.34 404.29,599.36 414.13,599.36 423.97,573.38 433.81,593.3 443.65,612.35 453.5,609.54 463.34,611.49 473.18,601.31 483.02,601.96 492.86,591.35 502.7,601.31 502.7,601.82 492.86,591.86 483.02,602.47 473.18,601.82 463.34,611.98 453.5,610.04 443.65,612.83 433.81,593.81 423.97,573.96 414.13,599.87 404.29,599.87 394.45,562.88 384.61,587.96 374.77,600.95 364.93,597.88 355.09,543.91 345.25,599.83 335.4,605.9 325.56,592.93 315.72,610.01 305.88,607.85 296.04,612.82 286.2,604.83 276.36,604.89 266.52,570.03 256.68,612.38 246.84,616.28 237,614.32 227.15,621.44 217.31,618.85 207.47,567.83 197.63,579.5 187.79,565.88 177.95,570.86 168.11,584.89 158.27,582.95 148.43,601.37 138.59,598.97 128.75,600.95 118.9,591.86 109.06,599 99.22,552.92 89.38,599.83 79.54,531.71 69.7,590.3" fill="#B7C0F6"/>
<g clip-path="url(#cp3)">
<path d="M70.05 586.18L79.19 518.37M79.85 518.38L89.07 595.48M89.8 595.5L98.81 539.79M99.71 539.78L108.58 586.42M111.32 587.68L116.65 584.63M120.13 585.63L127.52 599.45M130.72 600.05L136.61 594.99M140.56 594.99L146.45 600.05M149.26 599.28L157.43 575.2M160.42 574.2L165.96 577.98M169.71 577.4L176.35 568.93M180.48 567.5L185.26 568.66M188.79 571.67L196.63 590.47M199.09 590.72L206.01 580.51M208.07 580.89L216.72 617.62M219.81 620.86L224.65 622.25M228.85 620.99L235.3 613.46M239.52 612.1L244.31 613.26M248.9 612.28L254.62 607.88M257.12 603.73L266.08 551.91M267.04 551.9L275.84 594.87M278.78 598.37L283.78 600.35M287.95 603.24L294.29 610.21M298.25 610.77L303.67 607.44M308.44 606.53L313.16 607.36M317.06 605.58L324.23 593.58M327.13 593.42L333.83 602.27M337.82 603.39L342.83 601.4M345.56 597.86L354.77 522.49M355.44 522.48L364.58 589.86M367.12 593.83L372.58 597.32M376.35 596.65L383.02 588M385.24 583.42L393.82 548.84M394.96 548.87L403.78 592.92M406.02 593.53L412.4 586.37M414.97 581.96L423.13 558.09M424.69 558.13L433.09 587.34M434.85 592.22L442.61 609.97M445.38 610.41L451.77 603.25M455.77 602.56L461.06 605.47M465.33 605.06L471.18 600.16M475.72 597.94L480.48 596.89M484.54 594.22L491.34 584.8M494.1 584.98L501.46 598.59" fill="none" stroke="#1414F5" stroke-width="1.5"/>
<circle cx="69.7" cy="588.75" r="2.2" fill="#1414F5"/>
<circle cx="79.54" cy="515.79" r="2.2" fill="#1414F5"/>
<circle cx="89.38" cy="598.06" r="2.2" fill="#1414F5"/>
<circle cx="99.22" cy="537.23" r="2.2" fill="#1414F5"/>
<circle cx="109.06" cy="588.97" r="2.2" fill="#1414F5"/>
<circle cx="118.9" cy="583.34" r="2.2" fill="#1414F5"/>
<circle cx="128.75" cy="601.74" r="2.2" fill="#1414F5"/>
<circle cx="138.59" cy="593.3" r="2.2" fill="#1414F5"/>
<circle cx="148.43" cy="601.74" r="2.2" fill="#1414F5"/>
<circle cx="158.27" cy="572.73" r="2.2" fill="#1414F5"/>
<circle cx="168.11" cy="579.44" r="2.2" fill="#1414F5"/>
<circle cx="177.95" cy="566.89" r="2.2" fill="#1414F5"/>
<circle cx="187.79" cy="569.27" r="2.2" fill="#1414F5"/>
<circle cx="197.63" cy="592.87" r="2.2" fill="#1414F5"/>
<circle cx="207.47" cy="578.36" r="2.2" fill="#1414F5"/>
<circle cx="217.31" cy="620.15" r="2.2" fill="#1414F5"/>
<circle cx="227.15" cy="622.96" r="2.2" fill="#1414F5"/>
<circle cx="237" cy="611.49" r="2.2" fill="#1414F5"/>
<circle cx="246.84" cy="613.87" r="2.2" fill="#1414F5"/>
<circle cx="256.68" cy="606.29" r="2.2" fill="#1414F5"/>
<circle cx="266.52" cy="549.35" r="2.2" fill="#1414F5"/>
<circle cx="276.36" cy="597.41" r="2.2" fill="#1414F5"/>
<circle cx="286.2" cy="601.31" r="2.2" fill="#1414F5"/>
<circle cx="296.04" cy="612.14" r="2.2" fill="#1414F5"/>
<circle cx="305.88" cy="606.07" r="2.2" fill="#1414F5"/>
<circle cx="315.72" cy="607.81" r="2.2" fill="#1414F5"/>
<circle cx="325.56" cy="591.35" r="2.2" fill="#1414F5"/>
<circle cx="335.4" cy="604.34" r="2.2" fill="#1414F5"/>
<circle cx="345.25" cy="600.45" r="2.2" fill="#1414F5"/>
<circle cx="355.09" cy="519.91" r="2.2" fill="#1414F5"/>
<circle cx="364.93" cy="592.43" r="2.2" fill="#1414F5"/>
<circle cx="374.77" cy="598.71" r="2.2" fill="#1414F5"/>
<circle cx="384.61" cy="585.94" r="2.2" fill="#1414F5"/>
<circle cx="394.45" cy="546.32" r="2.2" fill="#1414F5"/>
<circle cx="404.29" cy="595.47" r="2.2" fill="#1414F5"/>
<circle cx="414.13" cy="584.42" r="2.2" fill="#1414F5"/>
<circle cx="423.97" cy="555.63" r="2.2" fill="#1414F5"/>
<circle cx="433.81" cy="589.84" r="2.2" fill="#1414F5"/>
<circle cx="443.65" cy="612.35" r="2.2" fill="#1414F5"/>
<circle cx="453.5" cy="601.31" r="2.2" fill="#1414F5"/>
<circle cx="463.34" cy="606.72" r="2.2" fill="#1414F5"/>
<circle cx="473.18" cy="598.5" r="2.2" fill="#1414F5"/>
<circle cx="483.02" cy="596.33" r="2.2" fill="#1414F5"/>
<circle cx="492.86" cy="582.69" r="2.2" fill="#1414F5"/>
<circle cx="502.7" cy="600.88" r="2.2" fill="#1414F5"/>
</g>
<rect x="69.7" y="508" width="433" height="129.9" fill="none" stroke="#000" stroke-width="1.45"/>
<line x1="64.7" y1="637.9" x2="69.7" y2="637.9" stroke="#000" stroke-width="1.45"/>
<text x="61" y="642" font-size="12.2" text-anchor="end">0</text>
<line x1="64.7" y1="616.25" x2="69.7" y2="616.25" stroke="#000" stroke-width="1.45"/>
<text x="61" y="620.35" font-size="12.2" text-anchor="end">10</text>
<line x1="64.7" y1="594.6" x2="69.7" y2="594.6" stroke="#000" stroke-width="1.45"/>
<text x="61" y="598.7" font-size="12.2" text-anchor="end">20</text>
<line x1="64.7" y1="572.95" x2="69.7" y2="572.95" stroke="#000" stroke-width="1.45"/>
<text x="61" y="577.05" font-size="12.2" text-anchor="end">30</text>
<line x1="64.7" y1="551.3" x2="69.7" y2="551.3" stroke="#000" stroke-width="1.45"/>
<text x="61" y="555.4" font-size="12.2" text-anchor="end">40</text>
<line x1="64.7" y1="529.65" x2="69.7" y2="529.65" stroke="#000" stroke-width="1.45"/>
<text x="61" y="533.75" font-size="12.2" text-anchor="end">50</text>
<line x1="64.7" y1="508" x2="69.7" y2="508" stroke="#000" stroke-width="1.45"/>
<text x="61" y="512.1" font-size="12.2" text-anchor="end">60</text>
<line x1="69.7" y1="637.9" x2="69.7" y2="642.8" stroke="#000" stroke-width="1.45"/>
<text x="69.7" y="656.4" font-size="12.15" text-anchor="middle">2024/01/04</text>
<line x1="128.75" y1="637.9" x2="128.75" y2="642.8" stroke="#000" stroke-width="1.45"/>
<text x="128.75" y="656.4" font-size="12.15" text-anchor="middle">2024/1/18</text>
<line x1="207.47" y1="637.9" x2="207.47" y2="642.8" stroke="#000" stroke-width="1.45"/>
<text x="207.47" y="656.4" font-size="12.15" text-anchor="middle">2024/01/30</text>
<line x1="286.2" y1="637.9" x2="286.2" y2="642.8" stroke="#000" stroke-width="1.45"/>
<text x="286.2" y="656.4" font-size="12.15" text-anchor="middle">2024/02/15</text>
<line x1="355.09" y1="637.9" x2="355.09" y2="642.8" stroke="#000" stroke-width="1.45"/>
<text x="355.09" y="656.4" font-size="12.15" text-anchor="middle">2024/02/29</text>
<line x1="423.97" y1="637.9" x2="423.97" y2="642.8" stroke="#000" stroke-width="1.45"/>
<text x="423.97" y="656.4" font-size="12.15" text-anchor="middle">2024/03/15</text>
<line x1="502.7" y1="637.9" x2="502.7" y2="642.8" stroke="#000" stroke-width="1.45"/>
<text x="502.7" y="656.4" font-size="12.15" text-anchor="middle">2024/03/30</text>
</g>
<text transform="translate(26.1 327.3) rotate(-90)" font-size="14.8" text-anchor="middle">Concentration (μg/m<tspan font-size="9.5" dy="-5">3</tspan><tspan dy="5">)</tspan></text>
<rect x="71.1" y="672.7" width="19.8" height="11.5" fill="#00E200"/>
<text x="96.6" y="682.4" font-size="10.9">OM</text>
<rect x="120.3" y="672.7" width="19.8" height="11.5" fill="#FF0000"/>
<text x="145.4" y="682.4" font-size="10.9">SO<tspan font-size="7.8" dy="2.6">4</tspan><tspan font-size="7.8" dy="-7.4">2−</tspan></text>
<rect x="177.2" y="672.7" width="19.8" height="11.5" fill="#1E82FF"/>
<text x="202.6" y="682.4" font-size="10.9">NO<tspan font-size="7.8" dy="2.6">3</tspan><tspan font-size="7.8" dy="-7.4">−</tspan></text>
<rect x="232.6" y="672.7" width="19.8" height="11.5" fill="#FFFF00"/>
<text x="257.8" y="682.4" font-size="10.9">NH<tspan font-size="7.8" dy="2.6">4</tspan><tspan font-size="7.8" dy="-7.4">+</tspan></text>
<rect x="287.2" y="672.7" width="19.8" height="11.5" fill="#3A3A3A"/>
<text x="313" y="682.4" font-size="10.9">EC</text>
<rect x="333" y="672.7" width="19.8" height="11.5" fill="#0B7D18"/>
<text x="358.9" y="682.4" font-size="10.9">K</text>
<rect x="372.1" y="672.7" width="19.8" height="11.5" fill="#FF3CFF"/>
<text x="397.6" y="682.4" font-size="10.9">Cl<tspan font-size="7.8" dy="-4.8">−</tspan></text>
<rect x="417.9" y="672.7" width="19.8" height="11.5" fill="#B8770F"/>
<text x="443.8" y="682.4" font-size="10.9">Na</text>
<rect x="461.9" y="672.7" width="19.8" height="11.5" fill="#CDF2C3"/>
<text x="487.8" y="682.4" font-size="10.9">Mg</text>
<rect x="71.1" y="693" width="19.8" height="11.5" fill="#15465E"/>
<text x="96.6" y="702.2" font-size="10.9">Mineral elements</text>
<rect x="228" y="693" width="19.8" height="11.5" fill="#B7C0F6"/>
<text x="254" y="702.2" font-size="10.9">Trace elements</text>
<path d="M364.7 700H373.9M379.5 700H388.2" stroke="#1414F5" stroke-width="1.5" fill="none"/>
<circle cx="376.7" cy="700" r="2.2" fill="#1414F5"/>
<text x="392" y="702.2" font-size="10.9">PM<tspan font-size="7.8" dy="2.6">2.5</tspan><tspan dy="-2.6"> Concentrations</tspan></text>
</svg>
</body></html>
